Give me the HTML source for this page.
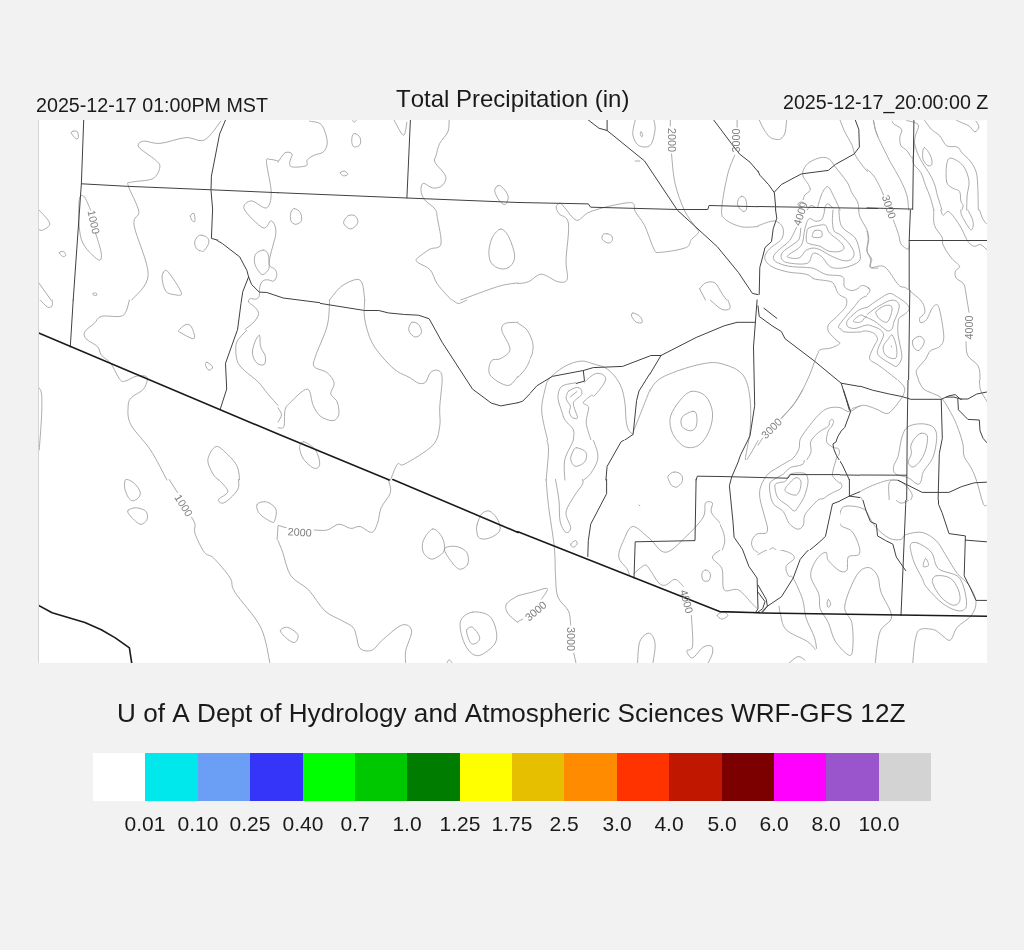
<!DOCTYPE html>
<html><head><meta charset="utf-8">
<style>
html,body{margin:0;padding:0;}
body{font-kerning:none;width:1024px;height:950px;background:#f2f2f2;position:relative;overflow:hidden;font-family:"Liberation Sans",sans-serif;color:#1a1a1a;}
.t{position:absolute;white-space:nowrap;line-height:1;will-change:transform;}
#map{position:absolute;left:38px;top:120px;width:948px;height:543px;background:#fff;border-left:1px solid #d4d4d4;}
#cb{position:absolute;left:93px;top:753px;height:48px;display:flex;}
.cl{top:813px;font-size:21px;transform:translateX(-50%);}
#cb div{width:52.375px;height:48px;}
</style></head><body>
<div class="t" id="tl" style="left:35.5px;top:95.5px;font-size:19.7px">2025-12-17 01:00PM MST</div>
<div class="t" id="tc" style="left:396px;top:86.5px;font-size:24px">Total Precipitation (in)</div>
<div class="t" id="tr" style="left:782.5px;top:93px;font-size:19.65px">2025-12-17_20:00:00 Z</div>
<div id="map"></div>
<!--SVG--><svg id="ov" width="1024" height="950" viewBox="0 0 1024 950" style="position:absolute;left:0;top:0">
<defs><clipPath id="mc"><rect x="39" y="120" width="948" height="543"/></clipPath>
<mask id="mk" maskUnits="userSpaceOnUse" x="0" y="0" width="1024" height="950"><rect x="0" y="0" width="1024" height="950" fill="white"/><rect x="720" y="460" width="120" height="90" fill="black"/><rect x="530" y="350" width="120" height="90" fill="black"/><rect x="867" y="290" width="120" height="90" fill="black"/><rect x="812" y="278" width="55" height="74" fill="black"/><rect x="860" y="380" width="127" height="120" fill="black"/><rect x="200" y="240" width="120" height="90" fill="black"/><rect x="660" y="465" width="30" height="30" fill="black"/></mask><clipPath id="oc0"><rect x="720" y="460" width="120" height="90"/></clipPath><clipPath id="oc1"><rect x="530" y="350" width="120" height="90"/></clipPath><clipPath id="oc2"><rect x="867" y="290" width="120" height="90"/></clipPath><clipPath id="oc3"><rect x="812" y="278" width="55" height="74"/></clipPath><clipPath id="oc4"><rect x="860" y="380" width="127" height="120"/></clipPath><clipPath id="oc5"><rect x="200" y="240" width="120" height="90"/></clipPath><clipPath id="oc6"><rect x="660" y="465" width="30" height="30"/></clipPath></defs>
<g clip-path="url(#mc)" fill="none" stroke-linejoin="round" stroke-linecap="round">
<g mask="url(#mk)"><path d="M73.2,131.2 C74.2,131.1 76.5,130.7 77.4,131.7 C78.2,132.8 78.6,136.5 78.3,137.6 C78.0,138.7 76.7,139.1 75.5,138.3 C74.3,137.5 71.7,134.1 71.3,132.9 C70.9,131.7 72.1,131.4 73.2,131.2 M220.8,121.2 C218.1,124.3 210.3,137.2 204.4,139.9 C198.5,142.7 193.1,137.0 185.7,137.6 C178.2,138.2 166.9,142.9 159.9,143.4 C152.8,144.0 147.0,140.5 143.5,141.1 C140.0,141.7 136.8,143.8 138.8,147.0 C140.7,150.1 151.7,156.5 155.2,159.8 C158.7,163.2 160.3,163.8 159.9,166.9 C159.5,170.0 157.5,176.1 152.8,178.6 C148.2,181.1 135.9,180.9 131.8,182.1 C127.6,183.3 127.1,180.7 128.2,185.6 C129.4,190.5 137.8,204.8 138.8,211.4 C139.8,218.0 132.5,214.9 134.1,225.5 C135.7,236.0 148.5,262.3 148.2,274.7 C147.8,287.1 134.5,295.8 131.8,300.0 M90.7,210.2 C89.6,207.9 85.7,197.5 83.7,196.2 C81.8,194.8 79.4,194.8 79.0,202.0 C78.6,209.3 78.2,230.0 81.4,239.5 C84.5,249.1 94.4,257.1 97.8,259.5 C101.1,261.8 101.7,258.1 101.3,253.6 C100.9,249.1 96.4,236.0 95.4,232.5 M38.0,209.1 C40.0,211.4 48.9,219.6 49.7,223.1 C50.5,226.6 44.6,229.2 42.7,230.2 C40.7,231.1 38.8,229.2 38.0,229.0 M59.1,252.4 C59.3,251.6 62.7,251.2 63.8,251.7 C64.9,252.2 65.9,254.7 65.7,255.5 C65.5,256.2 63.7,256.9 62.6,256.4 C61.5,255.9 58.9,253.2 59.1,252.4 M38.0,281.7 L50.9,300.0 M190.3,216.1 C190.5,214.8 193.1,212.5 193.9,213.3 C194.6,214.1 195.2,219.5 195.0,220.8 C194.8,222.1 193.5,222.0 192.7,221.2 C191.9,220.5 190.1,217.4 190.3,216.1 M202.1,235.3 C203.8,235.6 206.8,236.7 207.9,238.4 C209.0,240.0 209.4,243.3 208.6,245.4 C207.8,247.5 205.1,250.1 203.2,250.8 C201.4,251.4 198.8,250.7 197.4,249.4 C195.9,248.1 194.6,245.2 194.6,243.0 C194.6,240.9 196.1,238.0 197.4,236.7 C198.6,235.4 200.3,235.0 202.1,235.3 M163.4,272.3 C164.4,271.1 165.1,268.4 168.1,271.9 C171.1,275.3 180.5,289.2 181.4,293.0 C182.4,296.8 176.6,294.9 173.9,294.6 C171.3,294.3 167.7,293.6 165.7,291.1 C163.8,288.6 162.6,282.5 162.2,279.4 C161.8,276.2 162.4,273.6 163.4,272.3 M93.1,293.4 C93.5,293.0 95.5,292.7 96.1,293.0 C96.7,293.3 97.0,294.9 96.6,295.3 C96.2,295.7 94.4,295.6 93.8,295.3 C93.2,295.0 92.7,293.8 93.1,293.4 M278.0,161.0 C276.7,160.7 271.9,159.2 270.0,159.4 C268.1,159.6 266.3,156.6 266.5,162.2 C266.7,167.7 271.2,185.0 271.2,192.7 C271.2,200.3 269.8,206.5 266.5,207.9 C263.2,209.3 255.0,200.7 251.3,200.9 C247.6,201.1 242.3,204.6 244.2,209.1 C246.2,213.6 258.5,225.9 263.0,227.8 C267.5,229.8 269.1,220.0 271.2,220.8 C273.4,221.6 276.1,225.9 275.9,232.5 C275.7,239.1 270.2,252.8 270.0,260.6 C269.8,268.4 276.1,275.9 274.7,279.4 C273.4,282.9 265.0,278.3 261.8,281.7 C258.7,285.2 256.9,297.0 256.0,300.0 M261.8,250.1 C264.0,249.5 266.5,252.0 267.7,254.8 C268.9,257.5 269.6,263.2 268.9,266.5 C268.1,269.7 265.0,273.6 263.0,274.2 C261.0,274.8 258.5,272.7 257.1,270.0 C255.8,267.3 254.0,261.6 254.8,258.3 C255.6,255.0 259.7,250.7 261.8,250.1 M388.2,479.5 C388.5,481.7 391.7,487.8 390.5,492.5 C389.3,497.3 383.3,502.7 381.1,507.8 C379.0,512.9 379.2,518.9 377.6,523.0 C376.0,527.1 374.7,531.8 371.8,532.4 C368.8,533.0 363.5,527.2 360.0,526.5 C356.5,525.9 354.2,528.8 350.7,528.4 C347.1,528.0 342.8,523.9 338.9,524.2 C335.0,524.5 331.3,529.1 327.2,530.0 C323.1,531.0 316.5,530.0 314.3,530.0 M278.0,525.4 L286.2,527.7 M278.0,540.6 C278.8,542.5 280.5,546.5 282.7,552.3 C284.8,558.2 286.6,569.5 290.9,575.8 C295.2,582.0 302.8,584.0 308.5,589.8 C314.1,595.7 319.4,605.8 324.9,610.9 C330.3,616.0 336.6,617.5 341.3,620.3 C346.0,623.0 350.5,624.6 353.0,627.3 C355.5,630.0 355.3,633.2 356.5,636.7 C357.7,640.2 357.5,646.1 360.0,648.4 C362.6,650.7 367.8,651.8 371.8,650.3 C375.7,648.7 378.4,643.2 383.5,639.0 C388.5,634.8 397.5,626.3 402.2,625.0 C406.9,623.6 411.0,626.5 411.6,630.8 C412.2,635.1 406.7,645.3 405.7,650.8 C404.8,656.2 405.7,661.5 405.7,663.6 M432.7,528.9 C435.8,528.3 440.1,533.6 442.1,537.1 C444.0,540.6 445.2,546.6 444.4,550.0 C443.6,553.3 439.7,555.5 437.4,557.0 C435.0,558.5 432.7,559.7 430.3,558.9 C428.0,558.1 424.5,555.4 423.3,552.3 C422.1,549.3 421.8,544.5 423.3,540.6 C424.9,536.7 429.6,529.5 432.7,528.9 M444.4,548.8 C445.2,546.3 452.4,545.9 456.1,546.5 C459.8,547.0 464.7,549.4 466.7,552.3 C468.6,555.2 469.0,561.2 467.8,564.0 C466.7,566.8 462.4,569.6 459.6,569.2 C456.9,568.8 454.0,565.1 451.4,561.7 C448.9,558.3 443.6,551.3 444.4,548.8 M477.2,524.2 C478.1,521.3 479.8,515.8 481.9,513.6 C484.1,511.5 487.4,510.1 490.1,511.3 C492.8,512.5 496.8,517.4 498.3,520.7 C499.9,524.0 501.0,528.3 499.5,531.2 C497.9,534.1 492.3,537.1 488.9,538.2 C485.6,539.4 481.6,539.4 479.6,538.2 C477.5,537.1 477.1,533.6 476.8,531.2 C476.4,528.9 476.4,527.1 477.2,524.2 M280.3,630.8 C280.3,628.9 284.6,626.9 287.4,627.3 C290.1,627.7 295.0,631.4 296.8,633.2 C298.5,634.9 298.3,636.3 297.9,637.9 C297.5,639.4 296.2,642.4 294.4,642.5 C292.6,642.7 289.7,641.0 287.4,639.0 C285.0,637.1 280.3,632.8 280.3,630.8 M518.0,595.7 C516.1,597.0 508.2,600.9 506.5,603.9 C504.8,606.8 505.8,610.1 507.7,613.2 C509.6,616.4 516.3,621.1 518.0,622.6 M472.5,612.1 C477.2,611.3 485.0,612.7 488.9,615.6 C492.8,618.5 495.0,625.0 496.0,629.7 C496.9,634.3 497.5,639.4 494.8,643.7 C492.1,648.0 483.9,654.3 479.6,655.4 C475.3,656.6 471.9,653.9 469.0,650.8 C466.1,647.6 463.4,641.8 462.0,636.7 C460.6,631.6 459.1,624.4 460.8,620.3 C462.6,616.2 467.8,612.9 472.5,612.1 M466.7,629.7 C467.5,628.1 470.4,626.1 472.5,627.3 C474.7,628.5 478.8,634.1 479.6,636.7 C480.3,639.2 478.6,641.4 477.2,642.5 C475.9,643.7 472.9,644.7 471.4,643.7 C469.8,642.7 468.6,639.0 467.8,636.7 C467.1,634.3 465.9,631.2 466.7,629.7 M446.8,663.6 C447.1,663.0 448.1,659.7 449.1,659.7 C450.1,659.7 452.0,663.0 452.6,663.6 M546.1,479.5 C546.5,483.8 547.1,494.1 548.5,505.4 C549.8,516.8 553.2,535.9 554.3,547.6 C555.5,559.3 554.9,567.5 555.5,575.8 C556.1,584.0 555.7,591.0 557.8,596.8 C560.0,602.7 566.2,606.2 568.4,610.9 C570.5,615.6 570.3,622.6 570.7,625.0 M573.8,653.1 L576.1,663.6 M555.5,479.5 C556.1,483.0 558.2,493.7 559.0,500.8 C559.8,507.8 559.0,516.6 560.2,521.8 C561.4,527.1 564.3,531.4 566.0,532.4 C567.8,533.4 570.7,531.0 570.7,527.7 C570.7,524.4 565.5,517.7 566.0,512.5 C566.6,507.2 571.5,500.8 574.2,496.1 C577.0,491.4 581.1,487.1 582.5,484.3 C583.8,481.6 582.5,480.3 582.5,479.5 M570.7,544.1 C571.1,543.0 574.4,540.6 575.4,540.6 C576.5,540.6 577.5,543.0 577.1,544.1 C576.7,545.2 574.1,547.2 573.1,547.2 C572.0,547.2 570.3,545.2 570.7,544.1 M638.9,505.0 L639.9,505.9 M670.3,479.5 C671.1,480.7 673.1,485.9 675.0,486.7 C677.0,487.5 680.9,484.7 682.1,484.3 M629.3,574.6 C628.9,573.6 628.7,571.6 627.0,568.7 C625.2,565.8 619.4,561.7 618.8,557.0 C618.2,552.3 621.1,545.7 623.5,540.6 C625.8,535.5 628.5,526.9 632.8,526.5 C637.1,526.1 643.8,534.0 649.2,538.2 C654.7,542.5 659.4,552.7 665.7,552.3 C671.9,551.9 680.5,541.8 686.8,535.9 C693.0,530.0 700.0,522.6 703.2,517.2 C706.3,511.7 703.9,505.4 705.5,503.1 C707.1,500.8 711.6,501.5 712.5,503.1 C713.5,504.7 709.8,508.6 711.4,512.5 C712.9,516.4 719.8,521.1 721.9,526.5 C724.1,532.0 725.8,540.2 724.2,545.3 C722.7,550.4 712.9,553.1 712.5,557.0 C712.1,560.9 720.0,563.2 721.9,568.7 C723.9,574.2 721.5,586.3 724.2,589.8 C727.0,593.3 733.6,587.5 738.3,589.8 C743.0,592.2 749.2,600.8 752.4,603.9 C755.5,607.0 756.3,607.8 757.1,608.6 M634.0,573.4 C635.8,572.0 642.0,566.0 644.6,565.2 C647.1,564.4 646.9,565.8 649.2,568.7 C651.6,571.6 655.9,580.0 658.6,582.8 C661.4,585.5 662.9,585.7 665.7,585.1 C668.4,584.5 672.1,579.1 675.0,579.3 C678.0,579.5 681.9,585.1 683.2,586.3 M691.4,615.6 C691.6,620.7 693.4,640.2 692.6,646.1 C691.8,651.9 686.8,648.8 686.8,650.8 C686.8,652.7 689.9,658.4 692.6,657.8 C695.3,657.2 700.0,649.2 703.2,647.2 C706.3,645.3 709.8,645.1 711.4,646.1 C712.9,647.0 713.1,650.2 712.5,653.1 C711.9,656.0 708.6,661.9 707.8,663.6 M705.5,569.9 C706.9,569.9 709.6,571.6 710.2,573.4 C710.8,575.2 710.2,579.3 709.0,580.4 C707.8,581.6 704.3,581.6 703.2,580.4 C702.0,579.3 701.6,575.2 702.0,573.4 C702.4,571.6 704.1,569.9 705.5,569.9 M758.0,533.6 C757.1,534.7 752.9,537.9 752.4,540.6 C751.8,543.3 753.8,548.0 754.7,550.0 C755.7,551.9 757.5,551.9 758.0,552.3 M518.0,595.7 C520.3,595.1 527.2,593.3 532.1,592.2 C536.9,591.0 545.7,587.5 547.3,588.6 C548.9,589.8 542.4,597.4 541.4,599.2 M522.7,619.1 L518.0,621.5 M637.5,663.6 C637.9,659.9 637.9,646.5 639.9,641.4 C641.8,636.3 646.7,632.8 649.2,633.2 C651.8,633.6 654.5,638.6 655.1,643.7 C655.7,648.8 653.2,660.3 652.8,663.6 M717.2,615.6 C716.8,614.6 718.4,613.8 719.6,613.2 C720.7,612.7 722.9,611.7 724.2,612.1 C725.6,612.5 728.2,614.4 727.8,615.6 C727.4,616.8 723.7,619.1 721.9,619.1 C720.1,619.1 717.6,616.6 717.2,615.6 M760.3,479.5 C760.7,484.6 761.5,501.3 762.7,510.1 C763.9,518.9 768.2,528.5 767.4,532.4 C766.6,536.3 759.6,533.4 758.0,533.6 M769.7,479.5 C770.5,482.7 771.7,492.5 774.4,498.4 C777.1,504.3 781.8,509.7 786.1,514.8 C790.4,519.9 797.1,529.7 800.2,528.9 C803.3,528.1 801.4,515.0 804.9,510.1 C808.4,505.2 815.2,503.3 821.3,499.6 C827.3,495.9 838.5,491.2 841.2,487.9 C843.9,484.5 838.3,480.9 837.7,479.5 M783.8,479.5 C784.2,481.5 784.4,488.8 786.1,491.4 C787.9,493.9 792.0,495.3 794.3,494.9 C796.7,494.5 799.4,491.6 800.2,489.0 C801.0,486.5 799.2,481.1 799.0,479.5 M758.0,554.7 C760.1,553.7 765.8,549.2 770.9,548.8 C776.0,548.4 784.6,550.8 788.5,552.3 C792.4,553.9 794.7,555.8 794.3,558.2 C793.9,560.5 787.1,563.4 786.1,566.4 C785.1,569.3 787.3,573.8 788.5,575.8 C789.6,577.7 790.8,574.2 793.2,578.1 C795.5,582.0 800.4,592.5 802.5,599.2 C804.7,605.8 804.1,611.7 806.0,617.9 C808.0,624.2 812.5,631.6 814.2,636.7 C816.0,641.8 816.2,646.5 816.6,648.4 M865.8,510.1 C864.2,509.5 860.3,507.0 856.4,506.6 C852.5,506.2 845.1,504.9 842.4,507.8 C839.6,510.7 838.5,520.3 840.0,524.2 C841.6,528.1 848.6,527.7 851.8,531.2 C854.9,534.7 857.6,541.4 858.8,545.3 C860.0,549.2 860.5,552.7 858.8,554.7 C857.0,556.6 850.2,554.5 848.2,557.0 C846.3,559.5 848.4,567.5 847.1,569.9 C845.7,572.2 843.2,572.6 840.0,571.1 C836.9,569.5 830.7,563.6 828.3,560.5 C826.0,557.4 827.9,552.5 826.0,552.3 C824.0,552.1 819.1,555.4 816.6,559.3 C814.1,563.2 810.3,569.9 810.7,575.8 C811.1,581.6 817.4,589.0 818.9,594.5 C820.5,600.0 818.5,603.9 820.1,608.6 C821.7,613.2 825.8,617.2 828.3,622.6 C830.9,628.1 831.8,635.9 835.3,641.4 C838.9,646.8 846.5,654.7 849.4,655.4 C852.3,656.2 852.5,651.5 852.9,646.1 C853.3,640.6 853.1,629.3 851.8,622.6 C850.4,616.0 843.9,614.0 844.7,606.2 C845.5,598.4 852.5,582.2 856.4,575.8 C860.3,569.3 864.6,567.5 868.2,567.5 C871.7,567.5 875.4,571.6 877.5,575.8 C879.7,579.9 878.7,585.3 881.0,592.2 C883.4,599.0 891.8,610.1 891.6,616.8 C891.4,623.4 882.6,624.2 879.9,632.0 C877.1,639.8 876.0,658.4 875.2,663.6 M828.3,599.2 C828.9,599.2 830.7,602.5 830.7,603.9 C830.7,605.2 828.9,607.4 828.3,607.4 C827.7,607.4 827.1,605.2 827.1,603.9 C827.1,602.5 827.7,599.2 828.3,599.2 M889.2,479.5 C889.6,481.9 889.6,489.8 891.6,493.7 C893.5,497.7 897.5,502.7 901.0,503.1 C904.5,503.5 911.5,498.8 912.7,496.1 C913.9,493.3 909.6,489.4 908.0,486.7 C906.4,483.9 904.1,480.7 903.3,479.5 M865.8,510.1 C867.4,512.9 871.3,521.8 875.2,526.5 C879.1,531.2 885.0,536.1 889.2,538.2 C893.5,540.4 898.2,540.0 901.0,539.4 C903.7,538.8 902.1,535.9 905.7,534.7 C909.2,533.6 917.0,531.4 922.1,532.4 C927.1,533.4 932.2,536.9 936.1,540.6 C940.0,544.3 942.0,549.2 945.5,554.7 C949.0,560.1 953.3,568.3 957.2,573.4 C961.1,578.5 965.8,580.4 968.9,585.1 C972.1,589.8 975.6,596.5 976.0,601.5 C976.4,606.6 974.4,611.3 971.3,615.6 C968.2,619.9 960.7,623.2 957.2,627.3 C953.7,631.4 952.9,639.0 950.2,640.2 C947.5,641.4 943.5,636.1 940.8,634.3 C938.1,632.6 937.3,630.4 933.8,629.7 C930.3,628.9 922.8,627.7 919.7,629.7 C916.6,631.6 916.2,635.7 915.0,641.4 C913.9,647.0 913.1,659.9 912.7,663.6 M917.4,542.9 C920.9,544.1 927.9,548.0 931.4,552.3 C935.0,556.6 933.8,564.4 938.5,568.7 C943.2,573.0 954.9,572.2 959.6,578.1 C964.2,584.0 966.6,598.4 966.6,603.9 C966.6,609.3 963.5,610.9 959.6,610.9 C955.7,610.9 948.6,607.8 943.2,603.9 C937.7,600.0 930.3,591.8 926.8,587.5 C923.2,583.2 924.2,582.4 922.1,578.1 C919.9,573.8 915.8,567.2 913.9,561.7 C911.9,556.2 909.8,548.4 910.3,545.3 C910.9,542.2 913.9,541.8 917.4,542.9 M936.1,575.8 C939.1,575.0 946.5,575.8 950.2,578.1 C953.9,580.4 956.8,585.9 958.4,589.8 C960.0,593.7 960.5,599.0 959.6,601.5 C958.6,604.1 955.7,605.8 952.5,605.0 C949.4,604.3 944.1,600.6 940.8,596.8 C937.5,593.1 933.4,586.3 932.6,582.8 C931.8,579.3 933.2,576.5 936.1,575.8 M925.6,558.2 C926.5,558.0 929.0,563.8 928.6,565.2 C928.2,566.6 923.7,567.5 923.2,566.4 C922.7,565.2 924.7,558.4 925.6,558.2 M978.3,479.5 C979.1,483.4 981.6,498.8 983.0,503.1 C984.4,507.4 985.9,505.0 986.5,505.4 M779.1,606.2 C779.3,607.4 779.1,609.3 780.3,613.2 C781.4,617.2 781.6,625.0 786.1,629.7 C790.6,634.3 802.3,638.1 807.2,641.4 C812.1,644.7 814.1,648.2 815.4,649.6 M788.5,663.6 C790.0,662.5 795.1,657.2 797.8,656.6 C800.6,656.0 803.7,659.5 804.9,660.1 M309.6,121.2 C311.6,121.8 318.4,121.4 321.4,124.7 C324.3,128.0 326.8,136.6 327.2,141.1 C327.6,145.6 325.9,149.3 323.7,151.6 C321.6,154.0 317.1,153.8 314.3,155.2 C311.6,156.5 308.7,158.1 307.3,159.8 C305.9,161.6 308.7,164.5 306.1,165.7 C303.6,166.9 294.8,167.5 292.1,166.9 C289.3,166.3 289.7,164.3 289.7,162.2 C289.7,160.0 292.8,155.5 292.1,154.0 C291.3,152.4 287.4,151.4 285.0,152.8 C282.7,154.2 279.2,160.6 278.0,162.2 M352.5,120.0 C352.8,120.4 353.5,122.3 354.2,122.3 C354.8,122.3 356.1,120.4 356.5,120.0 M355.3,133.6 C356.6,134.0 359.2,135.7 360.0,137.6 C360.8,139.4 361.0,143.0 360.0,144.6 C359.1,146.2 355.5,147.3 354.2,147.0 C352.8,146.6 352.1,144.2 351.8,142.3 C351.6,140.3 351.9,136.7 352.5,135.2 C353.1,133.8 354.1,133.2 355.3,133.6 M340.1,172.7 C340.3,172.0 343.5,170.8 344.8,171.1 C346.1,171.4 348.0,173.6 347.8,174.4 C347.6,175.2 344.9,176.1 343.6,175.8 C342.3,175.5 339.9,173.5 340.1,172.7 M394.0,120.0 C395.6,122.5 401.2,134.8 403.4,135.2 C405.5,135.6 406.3,124.5 406.9,122.3 M449.1,120.0 C448.9,122.0 449.5,127.8 447.9,131.7 C446.4,135.6 441.7,139.5 439.7,143.4 C437.8,147.3 437.0,152.0 436.2,155.2 C435.4,158.3 433.5,158.7 435.0,162.2 C436.6,165.7 444.4,172.3 445.6,176.2 C446.8,180.2 444.2,183.7 442.1,185.6 C439.9,187.6 435.8,188.4 432.7,188.0 C429.6,187.6 425.3,182.9 423.3,183.3 C421.4,183.7 420.8,187.6 421.0,190.3 C421.2,193.0 422.1,196.6 424.5,199.7 C426.8,202.8 432.9,205.9 435.0,209.1 C437.2,212.2 436.4,212.6 437.4,218.4 C438.4,224.3 442.1,239.1 440.9,244.2 C439.7,249.3 433.3,247.3 430.3,248.9 C427.4,250.5 425.7,251.8 423.3,253.6 C421.0,255.4 417.1,257.9 416.3,259.5 C415.5,261.0 416.3,261.2 418.6,263.0 C421.0,264.7 427.2,266.5 430.3,270.0 C433.5,273.5 433.9,279.1 437.4,284.1 C440.9,289.1 449.1,297.3 451.4,300.0 M497.1,186.1 C498.3,185.3 500.0,185.1 501.8,186.8 C503.7,188.5 507.6,193.2 508.2,196.2 C508.7,199.1 506.8,203.6 505.3,204.4 C503.9,205.2 501.2,203.0 499.5,200.9 C497.7,198.7 495.2,193.9 494.8,191.5 C494.4,189.0 496.0,186.9 497.1,186.1 M294.4,208.6 C296.0,208.6 299.1,210.5 300.3,212.6 C301.4,214.6 302.2,218.8 301.4,220.8 C300.7,222.7 297.3,224.3 295.6,224.3 C293.8,224.3 291.7,222.7 290.9,220.8 C290.1,218.8 290.3,214.6 290.9,212.6 C291.5,210.5 292.8,208.6 294.4,208.6 M348.3,215.6 C350.3,214.5 353.8,214.8 355.3,216.1 C356.9,217.3 358.5,221.0 357.7,223.1 C356.9,225.3 353.0,229.0 350.7,229.0 C348.3,229.0 344.0,225.4 343.6,223.1 C343.2,220.9 346.4,216.8 348.3,215.6 M500.9,229.0 C503.6,229.0 506.6,232.7 508.9,237.2 C511.2,241.7 514.5,251.1 514.7,255.9 C514.9,260.8 512.4,264.3 510.0,266.5 C507.7,268.6 503.8,269.4 500.7,268.8 C497.5,268.2 493.2,265.9 491.3,263.0 C489.3,260.0 488.7,255.5 488.9,251.2 C489.1,247.0 490.5,240.9 492.5,237.2 C494.4,233.5 498.2,229.0 500.9,229.0 M329.6,300.0 C331.5,297.7 336.8,289.8 341.3,286.4 C345.8,283.0 353.0,279.8 356.5,279.4 C360.0,279.0 361.0,280.6 362.4,284.1 C363.7,287.5 364.3,297.3 364.7,300.0 M460.8,300.0 C467.1,297.7 488.8,289.3 498.3,286.4 C507.8,283.6 514.7,283.5 518.0,282.9 M518.0,283.6 C519.8,283.3 524.6,283.3 528.5,281.7 C532.5,280.2 536.6,274.2 541.4,274.2 C546.3,274.2 553.5,280.9 557.8,281.7 C562.1,282.6 565.9,282.9 567.2,279.4 C568.6,275.9 565.9,270.0 566.0,260.6 C566.2,251.2 569.6,230.9 568.4,223.1 C567.2,215.3 561.0,216.5 559.0,213.8 C557.0,211.0 556.0,208.5 556.2,206.7 C556.4,205.0 558.7,203.0 560.2,203.2 C561.6,203.4 562.1,205.0 564.9,207.9 C567.6,210.7 572.7,219.5 576.6,220.3 C580.5,221.1 583.2,214.8 588.3,212.6 C593.4,210.3 600.4,208.4 607.1,206.7 C613.7,205.1 623.7,203.1 628.2,202.7 C632.6,202.3 632.8,202.9 634.0,204.4 C635.2,205.8 633.4,207.9 635.2,211.4 C636.9,214.9 641.4,219.2 644.6,225.5 C647.7,231.7 651.4,244.4 653.9,248.9 C656.5,253.4 654.5,252.6 659.8,252.4 C665.1,252.2 680.3,249.9 685.6,247.7 C690.9,245.6 689.3,242.1 691.4,239.5 C693.6,237.0 697.7,234.5 698.5,232.5 C699.2,230.5 698.5,231.5 696.1,227.8 C693.8,224.1 687.9,217.7 684.4,210.2 C680.9,202.8 677.2,192.7 675.0,183.3 C672.9,173.9 672.1,158.9 671.5,154.0 M670.3,125.9 L670.3,120.0 M635.2,120.0 C634.8,122.3 632.5,130.0 632.8,134.1 C633.2,138.2 635.4,142.5 637.5,144.6 C639.7,146.8 643.4,147.1 645.7,147.0 C648.1,146.8 650.0,146.4 651.6,143.4 C653.2,140.5 654.7,133.3 655.1,129.4 C655.5,125.5 654.1,121.6 653.9,120.0 M641.0,131.7 C641.4,131.8 642.6,133.7 642.7,134.5 C642.8,135.4 642.1,137.0 641.8,136.9 C641.4,136.8 640.5,134.9 640.3,134.1 C640.2,133.2 640.7,131.6 641.0,131.7 M635.2,161.0 L639.9,161.0 M607.1,233.7 C608.5,233.9 610.9,234.8 611.8,236.0 C612.6,237.2 612.8,239.5 612.2,240.7 C611.6,241.9 609.9,243.2 608.2,243.0 C606.6,242.9 603.3,240.9 602.4,239.5 C601.5,238.2 602.1,235.8 602.8,234.8 C603.6,233.9 605.6,233.5 607.1,233.7 M737.1,120.0 L737.1,127.0 M734.8,155.2 C733.6,158.3 729.9,165.3 727.8,173.9 C725.6,182.5 722.5,199.3 721.9,206.7 C721.3,214.1 721.1,215.1 724.2,218.4 C727.4,221.8 735.0,225.3 740.7,226.6 C746.3,228.0 755.1,226.6 758.0,226.6 M741.8,196.2 C743.1,196.2 745.0,197.5 745.8,199.7 C746.6,201.8 747.0,207.1 746.5,209.1 C746.0,211.0 744.4,212.0 743.0,211.4 C741.6,210.8 738.6,207.5 737.8,205.5 C737.1,203.6 737.6,201.2 738.3,199.7 C739.0,198.1 740.6,196.2 741.8,196.2 M699.6,288.8 C700.6,287.8 703.0,283.9 705.5,282.9 C708.0,281.9 712.1,281.1 714.9,282.9 C717.6,284.6 720.0,290.6 721.9,293.4 C723.9,296.3 725.8,298.9 726.6,300.0 M699.6,288.8 L705.5,300.0 M759.2,120.0 C760.0,121.6 762.1,126.5 763.9,129.4 C765.6,132.2 767.8,135.3 769.7,137.0 C771.7,138.7 773.7,139.0 775.6,139.3 C777.4,139.6 779.3,139.8 780.9,138.8 C782.4,137.7 784.0,136.0 785.0,132.9 C785.9,129.8 786.4,122.1 786.7,120.0 M840.0,120.0 C840.8,122.0 842.8,127.6 844.7,131.7 C846.7,135.8 850.0,140.7 851.8,144.6 C853.5,148.5 853.3,151.4 855.3,155.2 C857.2,158.9 861.4,164.1 863.5,166.9 C865.5,169.6 866.9,170.8 867.6,171.6 M873.4,120.0 C873.7,121.6 874.4,126.6 875.2,129.4 C875.9,132.1 877.5,135.2 878.0,136.4 M803.1,199.7 C803.4,198.9 803.7,196.6 804.9,195.0 C806.0,193.4 809.6,192.1 810.1,190.3 C810.7,188.6 809.6,186.8 808.4,184.5 C807.2,182.1 803.9,178.8 803.1,176.2 C802.3,173.7 802.6,171.6 803.7,169.2 C804.8,166.9 806.6,164.1 809.6,162.2 C812.5,160.2 818.0,158.0 821.3,157.5 C824.6,157.0 827.1,157.7 829.5,159.3 C831.8,160.8 832.4,163.1 835.3,166.9 C838.3,170.7 844.3,177.8 847.1,182.1 C849.8,186.4 850.0,189.3 851.8,192.7 C853.5,196.0 856.4,199.1 857.6,202.0 C858.8,204.9 858.6,208.7 858.8,210.0 M817.8,206.7 C818.4,204.6 820.2,197.2 821.9,193.8 C823.5,190.5 825.7,186.0 827.7,186.6 C829.8,187.1 832.1,193.4 834.2,197.3 C836.2,201.2 839.1,207.9 840.0,210.0 M798.4,203.2 C799.0,202.6 800.8,201.8 801.9,202.0 C803.1,202.2 805.4,203.6 805.5,204.4 C805.6,205.2 803.7,206.5 802.5,206.7 C801.4,206.9 799.1,206.1 798.4,205.5 C797.7,205.0 797.8,203.8 798.4,203.2 M807.2,210.0 C807.8,209.3 809.4,206.0 810.7,205.5 C812.1,205.1 814.6,207.0 815.4,207.3 M824.2,210.0 C824.7,209.0 825.7,204.1 827.1,203.8 C828.6,203.4 832.0,207.2 833.0,207.9 M873.4,120.0 C873.9,122.1 874.9,128.6 876.4,132.9 C877.8,137.2 879.9,140.9 882.2,145.8 C884.6,150.7 887.5,156.7 890.4,162.2 C893.4,167.7 897.1,173.1 899.8,178.6 C902.5,184.1 905.4,189.8 906.8,195.0 C908.3,200.2 908.3,207.5 908.6,210.0 M867.0,169.2 C868.2,170.4 871.9,173.3 874.0,176.2 C876.2,179.2 878.3,183.7 879.9,186.8 C881.5,189.9 882.8,193.6 883.4,195.0 M892.2,121.2 C892.5,121.7 892.4,122.7 894.0,124.1 C895.5,125.5 900.6,127.1 901.6,129.4 C902.5,131.6 899.9,134.8 899.8,137.6 C899.7,140.3 899.8,143.6 901.0,145.8 C902.2,147.9 904.9,148.5 906.8,150.5 C908.8,152.4 911.3,159.6 912.7,157.5 C914.1,155.4 914.1,142.9 915.0,137.6 C916.0,132.3 918.8,128.4 918.6,125.9 C918.4,123.3 915.8,123.2 913.9,122.3 C911.9,121.5 908.0,120.9 906.8,120.6 M912.7,158.7 C912.9,159.6 912.5,162.2 913.9,164.5 C915.2,166.9 919.0,169.2 920.9,172.7 C922.9,176.2 924.0,181.5 925.6,185.6 C927.2,189.7 928.9,193.3 930.3,197.3 C931.6,201.4 933.2,207.9 933.8,210.0 M913.9,141.1 C914.5,143.0 916.0,149.3 917.4,152.8 C918.8,156.3 919.9,158.5 922.1,162.2 C924.2,165.9 928.1,171.2 930.3,175.1 C932.4,179.0 933.8,182.3 935.0,185.6 C936.1,188.9 936.1,190.9 937.3,195.0 C938.5,199.1 941.2,207.5 942.0,210.0 M924.4,147.5 C925.7,147.9 929.0,152.4 930.3,155.2 C931.6,157.9 932.4,162.2 932.0,163.9 C931.6,165.7 929.4,166.4 927.9,165.7 C926.5,165.0 924.1,162.0 923.2,159.8 C922.4,157.7 922.5,154.9 922.7,152.8 C922.9,150.8 923.2,147.1 924.4,147.5 M924.4,120.0 C925.6,121.6 928.9,126.7 931.5,129.4 C934.0,132.0 937.1,133.1 939.7,135.8 C942.2,138.6 943.8,143.9 946.7,145.8 C949.6,147.6 954.7,145.8 957.2,147.0 C959.8,148.1 959.8,150.5 961.9,152.8 C964.1,155.2 967.8,157.9 970.1,161.0 C972.5,164.1 974.7,167.5 976.0,171.6 C977.3,175.7 977.4,179.2 977.7,185.6 C978.1,192.0 978.2,205.9 978.3,210.0 M961.9,210.0 C962.1,209.3 963.3,207.1 963.1,205.5 C962.9,204.0 961.3,203.2 960.8,200.9 C960.2,198.5 960.9,193.6 959.6,191.5 C958.2,189.3 954.7,189.5 952.5,188.0 C950.4,186.4 947.7,186.0 946.7,182.1 C945.7,178.2 946.0,168.5 946.7,164.5 C947.4,160.5 948.1,157.9 950.8,158.1 C953.5,158.3 960.1,161.9 963.1,165.7 C966.1,169.5 968.3,176.1 969.0,180.9 C969.6,185.8 967.6,190.2 967.2,195.0 C966.8,199.8 966.7,207.5 966.6,210.0 M956.1,120.0 C956.8,120.4 958.6,121.4 960.8,122.3 C962.9,123.3 966.6,124.3 969.0,125.9 C971.3,127.4 973.2,131.5 974.8,131.7 C976.5,131.9 978.7,128.8 978.9,127.0 C979.1,125.3 976.5,122.1 976.0,121.2 M814.8,230.5 C816.3,229.9 820.2,230.0 821.3,231.1 C822.4,232.2 822.6,235.9 821.3,237.0 C819.9,238.0 814.5,237.6 813.1,237.2 C811.6,236.8 812.2,235.7 812.5,234.6 C812.8,233.5 813.4,231.1 814.8,230.5 M808.4,228.2 C810.1,226.9 813.8,226.3 816.6,225.8 C819.4,225.3 823.2,224.1 825.4,225.2 C827.5,226.4 827.0,230.1 829.5,232.9 C831.9,235.6 837.6,239.1 840.0,241.6 C842.5,244.2 844.3,246.4 844.1,248.1 C843.9,249.7 841.5,251.1 838.9,251.6 C836.2,252.1 831.4,251.9 828.3,251.0 C825.2,250.1 823.1,247.5 820.1,246.3 C817.1,245.2 812.4,244.8 810.1,244.0 C807.9,243.2 807.2,243.4 806.6,241.6 C806.0,239.9 806.3,235.7 806.6,233.4 C806.9,231.2 806.7,229.4 808.4,228.2 M758.0,225.8 C760.3,225.0 768.5,221.6 772.1,221.1 C775.6,220.6 777.2,221.6 779.1,222.9 C780.9,224.2 782.6,226.4 783.2,228.8 C783.8,231.1 783.3,234.8 782.6,237.0 C781.9,239.1 781.2,239.7 779.1,241.6 C776.9,243.6 772.1,246.3 769.7,248.7 C767.4,251.0 765.6,253.6 765.0,255.7 C764.4,257.9 764.8,259.6 766.2,261.6 C767.6,263.5 769.5,265.7 773.2,267.4 C776.9,269.2 783.0,271.0 788.5,272.1 C793.9,273.2 801.6,273.0 806.0,274.2 C810.5,275.4 811.3,277.9 815.4,279.1 C819.5,280.4 827.3,280.1 830.7,281.5 C834.0,282.9 834.0,285.4 835.3,287.3 C836.7,289.3 837.1,291.1 838.9,293.2 C840.6,295.3 844.7,298.9 845.9,300.0 M796.7,227.0 C795.5,229.2 792.4,236.9 789.6,240.5 C786.9,244.1 782.9,246.1 780.3,248.7 C777.6,251.2 774.6,253.6 773.8,255.7 C773.0,257.9 773.1,259.8 775.6,261.6 C778.0,263.3 783.6,265.3 788.5,266.2 C793.4,267.2 800.6,267.0 804.9,267.4 C809.2,267.8 810.7,267.4 814.2,268.6 C817.8,269.8 821.3,273.1 826.0,274.5 C830.7,275.8 839.2,274.6 842.4,276.6 C845.5,278.5 843.4,283.8 844.7,286.2 C846.1,288.6 847.6,290.9 850.6,290.9 C853.5,290.9 859.2,286.6 862.3,286.2 C865.4,285.8 868.4,287.1 869.3,288.5 C870.3,289.9 869.7,292.5 868.2,294.4 C866.6,296.3 861.3,299.1 860.0,300.0 M800.8,228.2 C800.5,230.0 800.5,236.5 799.0,239.3 C797.6,242.1 794.7,243.0 792.0,245.2 C789.2,247.3 784.4,250.0 782.6,252.2 C780.9,254.3 780.7,256.3 781.4,258.0 C782.2,259.8 783.0,261.9 787.3,262.7 C791.6,263.6 802.9,264.9 807.2,263.3 C811.5,261.8 810.7,254.5 813.1,253.4 C815.4,252.2 818.7,254.3 821.3,256.3 C823.8,258.2 826.2,263.1 828.3,265.1 C830.5,267.0 831.2,267.6 834.2,268.0 C837.1,268.4 841.8,268.5 845.9,267.4 C850.0,266.3 856.4,263.9 858.8,261.6 C861.1,259.2 860.5,257.3 860.0,253.4 C859.4,249.5 858.0,242.2 855.3,238.1 C852.5,234.0 846.1,231.5 843.5,228.8 C841.0,226.0 840.8,224.8 840.0,221.7 C839.2,218.6 839.1,212.0 838.9,210.0 M824.8,210.0 C824.3,211.6 823.4,217.5 821.9,219.4 C820.3,221.2 817.6,221.2 815.4,221.1 C813.3,221.0 810.7,217.5 809.0,218.8 C807.2,220.1 806.1,224.4 804.9,228.8 C803.6,233.1 804.0,240.9 801.4,245.2 C798.7,249.5 791.2,252.5 789.1,254.5 C786.9,256.6 786.8,256.9 788.5,257.5 C790.1,258.0 796.1,259.2 799.0,258.0 C801.9,256.9 803.7,252.1 806.0,250.4 C808.4,248.8 810.7,248.2 813.1,248.1 C815.4,248.0 817.2,248.6 820.1,249.8 C823.0,251.1 826.9,253.9 830.7,255.7 C834.4,257.5 839.1,259.7 842.4,260.4 C845.7,261.1 848.6,261.0 850.6,259.8 C852.5,258.6 854.3,256.0 854.1,253.4 C853.9,250.7 851.8,247.1 849.4,244.0 C847.1,240.9 842.6,236.8 840.0,234.6 C837.5,232.5 835.4,233.2 834.2,231.1 C832.9,228.9 832.6,225.2 832.4,221.7 C832.2,218.2 832.9,212.0 833.0,210.0 M858.8,210.0 C859.0,211.2 858.6,213.7 860.0,217.0 C861.3,220.4 865.5,226.2 867.0,229.9 C868.4,233.6 868.7,235.8 868.7,239.3 C868.7,242.8 866.7,247.7 867.0,251.0 C867.3,254.3 869.9,256.5 870.5,259.2 C871.1,262.0 869.2,266.0 870.5,267.4 C871.8,268.9 876.8,267.9 878.0,268.0 M893.4,220.0 C894.2,222.4 897.4,230.6 898.6,234.6 C899.9,238.6 899.4,241.5 901.0,244.0 C902.5,246.4 906.6,249.1 908.0,249.3 C909.4,249.5 909.2,245.8 909.4,245.2 M867.0,231.1 C867.2,232.5 868.2,236.0 868.2,239.3 C868.2,242.6 866.4,247.7 867.0,251.0 C867.6,254.3 871.1,256.5 871.7,259.2 C872.3,262.0 868.4,266.2 870.5,267.4 C872.7,268.7 879.9,263.9 884.6,266.8 C889.3,269.8 894.9,281.4 898.6,285.0 C902.4,288.6 903.7,286.0 906.8,288.5 C910.0,291.0 915.6,298.1 917.4,300.0 M867.0,287.3 C867.6,287.9 870.5,289.5 870.5,290.9 C870.5,292.2 867.6,294.8 867.0,295.5 M878.7,300.0 C880.5,298.9 885.4,293.2 889.3,293.2 C893.2,293.2 900.0,298.9 902.2,300.0 M933.8,210.0 C933.9,212.5 933.0,220.7 934.4,225.2 C935.8,229.7 940.5,233.6 942.0,237.0 C943.5,240.3 941.6,241.6 943.2,245.2 C944.7,248.7 948.6,254.5 951.4,258.0 C954.1,261.6 958.9,264.1 959.6,266.2 C960.3,268.4 956.1,269.0 955.5,270.9 C954.9,272.9 954.6,275.6 956.1,278.0 C957.5,280.3 962.7,281.3 964.3,285.0 C965.8,288.7 965.2,297.5 965.4,300.0 M940.8,210.0 C941.2,210.9 941.8,215.0 943.2,215.3 C944.5,215.6 946.3,210.1 949.0,211.8 C951.8,213.4 956.6,220.6 959.6,225.2 C962.5,229.8 964.9,236.2 966.6,239.3 C968.4,242.4 968.8,242.8 970.1,244.0 C971.5,245.2 973.1,246.2 974.8,246.3 C976.6,246.4 978.6,244.0 980.7,244.6 C982.7,245.2 985.9,249.0 987.0,249.8 M960.8,210.0 C960.9,211.0 960.4,212.6 961.9,215.9 C963.5,219.1 968.3,227.6 970.1,229.3 C972.0,231.1 972.7,228.1 973.1,226.4 C973.4,224.7 973.3,222.1 972.5,219.4 C971.6,216.6 968.6,211.6 967.8,210.0 M979.5,210.0 C980.1,211.6 981.8,217.0 983.0,219.4 C984.3,221.7 986.3,223.3 987.0,224.1 M40.3,300.0 C41.5,301.2 45.4,306.1 47.4,307.0 C49.3,308.0 51.3,307.0 52.1,305.9 C52.8,304.7 52.1,301.0 52.1,300.0 M129.4,300.0 C128.8,302.0 127.5,309.0 125.9,311.7 C124.3,314.5 124.1,315.6 120.0,316.4 C115.9,317.2 105.6,315.2 101.3,316.4 C97.0,317.6 97.0,320.9 94.2,323.4 C91.5,326.0 86.2,329.1 84.9,331.6 C83.5,334.2 83.9,336.1 86.0,338.7 C88.2,341.2 95.2,344.1 97.8,346.9 C100.3,349.6 99.1,352.3 101.3,355.1 C103.4,357.8 107.5,359.2 110.7,363.3 C113.8,367.4 117.5,376.8 120.0,379.7 C122.6,382.6 123.2,381.4 125.9,380.9 C128.6,380.3 132.9,376.8 136.4,376.2 C140.0,375.6 145.8,375.2 147.0,377.3 C148.2,379.5 146.0,385.7 143.5,389.1 C140.9,392.4 134.3,394.5 131.8,397.3 C129.2,400.0 128.4,401.0 128.2,405.5 C128.0,410.0 126.9,416.8 130.6,424.2 C134.3,431.6 144.4,440.7 150.5,450.0 C156.6,459.3 164.2,475.0 166.9,480.0 M178.6,330.5 C179.8,329.5 183.5,325.2 185.7,324.6 C187.8,324.0 190.1,324.6 191.5,327.0 C192.9,329.3 196.0,337.9 193.9,338.7 C191.7,339.5 181.2,332.8 178.6,331.6 M206.8,362.1 C207.9,362.3 212.2,365.4 212.6,366.8 C213.0,368.2 210.3,370.5 209.1,370.3 C207.9,370.1 206.0,367.0 205.6,365.6 C205.2,364.3 205.6,361.9 206.8,362.1 M250.1,300.0 C251.5,302.0 257.7,307.8 258.3,311.7 C258.9,315.6 256.4,319.5 253.6,323.4 C250.9,327.3 244.8,331.6 241.9,335.2 C239.0,338.7 236.8,340.2 236.0,344.5 C235.3,348.8 235.9,356.6 237.2,360.9 C238.6,365.2 240.7,366.8 244.2,370.3 C247.8,373.8 254.4,378.1 258.3,382.0 C262.2,385.9 264.4,389.8 267.7,393.8 C271.0,397.7 276.3,403.5 278.0,405.5 M259.5,335.2 C260.5,335.9 259.7,343.4 260.7,346.9 C261.6,350.4 264.8,353.3 265.3,356.2 C265.9,359.2 265.5,363.3 264.2,364.5 C262.8,365.6 259.1,365.0 257.1,363.3 C255.2,361.5 252.8,357.4 252.5,353.9 C252.1,350.4 253.6,345.3 254.8,342.2 C256.0,339.1 258.5,334.4 259.5,335.2 M38.0,386.7 C38.6,387.9 40.9,388.7 41.5,393.8 C42.1,398.8 41.9,407.8 41.5,417.2 C41.1,426.6 39.6,444.5 39.2,450.0 M218.5,480.0 C217.5,478.9 214.4,476.9 212.6,473.4 C210.9,470.0 207.3,463.9 207.9,459.4 C208.5,454.9 212.8,447.3 216.1,446.5 C219.4,445.7 224.3,451.4 227.8,454.7 C231.4,458.0 235.3,462.2 237.2,466.4 C239.2,470.6 239.2,477.7 239.6,480.0 M329.6,300.0 C329.2,304.3 329.6,316.4 327.2,325.8 C324.9,335.2 317.6,349.4 315.5,356.2 C313.4,363.1 312.4,364.1 314.3,366.8 C316.3,369.5 323.9,369.9 327.2,372.7 C330.5,375.4 333.7,379.7 334.2,383.2 C334.8,386.7 330.3,390.8 330.7,393.8 C331.1,396.7 335.2,398.0 336.6,400.8 C338.0,403.5 338.7,407.4 338.9,410.2 C339.1,412.9 338.9,415.4 337.8,417.2 C336.6,418.9 334.8,420.9 331.9,420.7 C329.0,420.5 323.3,418.6 320.2,416.0 C317.1,413.5 315.3,410.0 313.2,405.5 C311.0,401.0 311.2,389.5 307.3,389.1 C303.4,388.7 293.4,399.6 289.7,403.1 C286.0,406.6 286.0,406.2 285.0,410.2 C284.1,414.1 285.0,423.6 283.9,426.6 C282.7,429.5 279.0,427.5 278.0,427.7 M278.0,407.8 C278.6,409.0 281.5,412.5 281.5,414.8 C281.5,417.2 278.6,420.7 278.0,421.9 M364.7,300.0 C364.7,303.1 363.5,311.7 364.7,318.8 C365.9,325.8 368.2,335.2 371.8,342.2 C375.3,349.2 381.5,356.1 385.8,360.9 C390.1,365.8 393.6,368.8 397.5,371.5 C401.4,374.2 405.7,375.4 409.2,377.3 C412.8,379.3 415.9,382.4 418.6,383.2 C421.4,384.0 423.7,383.8 425.7,382.0 C427.6,380.3 428.4,374.6 430.3,372.7 C432.3,370.7 435.4,369.5 437.4,370.3 C439.3,371.1 441.7,371.1 442.1,377.3 C442.5,383.6 440.1,399.6 439.7,407.8 C439.3,416.0 440.9,420.3 439.7,426.6 C438.5,432.8 438.5,439.1 432.7,445.3 C426.8,451.6 410.4,460.9 404.6,464.1 C398.7,467.2 399.9,461.4 397.5,464.1 C395.2,466.7 391.7,477.3 390.5,480.0 M411.6,322.3 C413.2,321.3 417.0,322.9 418.6,324.6 C420.3,326.4 422.0,330.7 421.4,332.8 C420.9,334.9 417.2,337.4 415.1,337.0 C413.0,336.6 409.4,332.9 408.8,330.5 C408.2,328.0 410.0,323.2 411.6,322.3 M303.8,441.8 C306.4,442.2 312.8,446.3 315.5,450.0 C318.2,453.7 319.9,461.0 319.7,464.1 C319.5,467.1 317.0,469.1 314.3,468.3 C311.7,467.5 306.2,462.8 303.8,459.4 C301.3,455.9 299.6,450.6 299.6,447.7 C299.6,444.7 301.1,441.4 303.8,441.8 M452.6,300.0 C453.6,300.6 456.1,303.5 458.5,303.5 C460.8,303.5 465.3,300.6 466.7,300.0 M518.0,322.3 C515.9,322.5 508.0,322.1 505.3,323.4 C502.6,324.8 501.0,326.2 501.8,330.5 C502.6,334.8 510.2,344.5 510.0,349.2 C509.8,353.9 503.8,356.6 500.7,358.6 C497.5,360.5 493.0,358.2 491.3,360.9 C489.5,363.7 487.4,370.9 490.1,375.0 C492.8,379.1 503.0,385.4 507.7,385.5 C512.3,385.7 516.3,377.7 518.0,376.2 M518.0,323.4 C519.6,324.6 524.8,326.6 527.4,330.5 C529.9,334.4 533.2,341.0 533.2,346.9 C533.2,352.7 529.9,360.5 527.4,365.6 C524.8,370.7 519.6,375.4 518.0,377.3 M632.8,312.9 C634.2,312.9 638.3,314.8 639.9,316.4 C641.4,318.0 642.8,321.3 642.2,322.3 C641.6,323.2 638.1,323.2 636.4,322.3 C634.6,321.3 632.3,318.0 631.7,316.4 C631.1,314.8 631.5,312.9 632.8,312.9 M710.2,300.0 C712.1,301.6 718.6,308.0 721.9,309.4 C725.2,310.7 729.1,309.8 730.1,308.2 C731.1,306.6 728.2,301.4 727.8,300.0 M546.1,480.0 C546.5,475.0 548.5,457.3 548.5,450.0 C548.5,442.7 547.1,442.6 546.1,435.9 C545.1,429.3 542.6,419.5 542.6,410.2 C542.6,400.8 542.4,387.1 546.1,379.7 C549.8,372.3 559.0,368.7 564.9,365.6 C570.7,362.6 575.8,361.6 581.3,361.4 C586.8,361.2 592.6,362.8 597.7,364.5 C602.8,366.1 607.8,368.2 611.8,371.5 C615.7,374.8 619.0,377.9 621.1,384.4 C623.3,390.8 623.7,402.9 624.6,410.2 C625.6,417.4 625.6,423.6 627.0,427.7 C628.4,431.8 631.9,433.6 632.8,434.8 M583.6,370.3 C583.8,372.3 586.0,380.0 584.8,382.0 C583.6,384.1 578.7,381.7 576.6,382.5 C574.4,383.3 572.7,386.0 571.9,386.7 M564.9,480.0 C564.9,476.6 563.3,466.7 564.9,459.4 C566.4,452.0 574.2,442.2 574.2,435.9 C574.2,429.7 567.6,427.3 564.9,421.9 C562.1,416.4 558.6,409.0 557.8,403.1 C557.1,397.3 557.8,390.0 560.2,386.7 C562.5,383.4 570.0,383.8 571.9,383.2 M583.6,480.0 C584.8,478.9 588.3,476.9 590.7,473.4 C593.0,470.0 596.9,464.1 597.7,459.4 C598.5,454.7 597.3,451.2 595.3,445.3 C593.4,439.5 587.1,428.9 586.0,424.2 C584.8,419.5 588.3,421.1 588.3,417.2 C588.3,413.3 586.6,406.1 586.0,400.8 C585.4,395.5 584.0,389.5 584.8,385.5 C585.6,381.6 588.3,379.3 590.7,377.3 C593.0,375.4 596.3,373.4 598.9,373.8 C601.4,374.2 605.3,377.5 605.9,379.7 C606.5,381.8 604.5,384.2 602.4,386.7 C600.2,389.3 595.7,392.6 593.0,394.9 C590.3,397.3 587.1,399.8 586.0,400.8 M568.4,390.2 C569.8,389.0 574.5,388.0 576.6,388.6 C578.7,389.2 581.2,391.9 580.8,393.8 C580.4,395.6 576.3,399.2 574.2,399.6 C572.2,400.0 569.4,397.7 568.4,396.1 C567.4,394.5 567.0,391.5 568.4,390.2 M570.7,403.1 C571.7,403.5 575.4,407.6 576.6,410.2 C577.8,412.7 578.4,417.2 577.8,418.4 C577.2,419.5 574.2,418.9 573.1,417.2 C571.9,415.4 571.1,410.2 570.7,407.8 C570.3,405.5 569.8,402.7 570.7,403.1 M576.6,447.7 C578.7,447.9 584.6,450.0 586.0,452.3 C587.3,454.7 586.6,459.4 584.8,461.7 C583.0,464.1 577.8,466.8 575.4,466.4 C573.1,466.0 571.1,461.9 570.7,459.4 C570.3,456.8 572.1,453.1 573.1,451.2 C574.1,449.2 574.4,447.5 576.6,447.7 M632.8,431.2 C634.4,427.7 638.7,418.0 642.2,410.2 C645.7,402.3 648.9,390.6 653.9,384.4 C659.0,378.1 664.1,376.2 672.7,372.7 C681.3,369.1 696.9,364.6 705.5,363.3 C714.1,361.9 718.0,362.5 724.2,364.5 C730.5,366.4 738.7,369.3 743.0,375.0 C747.3,380.7 748.9,389.1 750.0,398.4 C751.2,407.8 750.8,421.1 750.0,431.2 C749.2,441.4 745.3,455.5 745.3,459.4 C745.3,463.3 747.9,457.8 750.0,454.7 C752.1,451.6 756.7,443.0 758.0,440.6 M691.4,391.4 C695.7,390.6 702.0,392.6 705.5,396.1 C709.0,399.6 711.9,406.6 712.5,412.5 C713.1,418.4 711.4,425.8 709.0,431.2 C706.7,436.7 702.6,442.8 698.5,445.3 C694.4,447.9 688.7,448.4 684.4,446.5 C680.1,444.5 675.0,438.5 672.7,433.6 C670.3,428.7 669.2,422.7 670.3,417.2 C671.5,411.7 676.2,405.1 679.7,400.8 C683.2,396.5 687.1,392.2 691.4,391.4 M692.6,411.3 C695.0,410.9 696.0,412.3 696.6,414.8 C697.2,417.4 697.2,423.9 696.1,426.6 C695.1,429.2 692.6,430.8 690.3,430.8 C687.9,430.8 683.4,428.8 682.1,426.6 C680.7,424.3 680.3,419.7 682.1,417.2 C683.8,414.6 690.2,411.7 692.6,411.3 M668.0,480.0 C669.2,478.5 672.7,471.4 675.0,471.1 C677.4,470.8 680.9,477.0 682.1,478.1 M781.4,418.4 C784.2,415.0 793.2,405.7 797.8,398.4 C802.5,391.2 806.0,382.8 809.6,375.0 C813.1,367.2 815.8,356.1 818.9,351.6 C822.1,347.1 825.2,349.4 828.3,348.0 C831.4,346.7 837.7,346.7 837.7,343.4 C837.7,340.0 829.1,332.2 828.3,328.1 C827.5,324.0 830.3,322.7 833.0,318.8 C835.7,314.8 842.6,307.8 844.7,304.7 C846.9,301.6 845.7,300.8 845.9,300.0 M840.0,322.3 C842.4,320.1 848.6,313.1 854.1,309.4 C859.6,305.7 869.7,301.6 872.8,300.0 M840.0,322.3 C841.2,323.8 843.2,329.9 847.1,331.6 C851.0,333.4 858.8,331.6 863.5,332.8 C868.2,334.0 874.0,334.4 875.2,338.7 C876.4,343.0 868.9,353.3 870.5,358.6 C872.1,363.9 879.9,366.6 884.6,370.3 C889.2,374.0 895.3,377.3 898.6,380.9 C901.9,384.4 904.7,387.7 904.5,391.4 C904.3,395.1 900.2,399.4 897.5,403.1 C894.7,406.8 891.8,412.7 888.1,413.7 C884.4,414.6 878.9,410.4 875.2,409.0 C871.5,407.6 869.3,405.7 865.8,405.5 C862.3,405.3 856.6,407.0 854.1,407.8 C851.6,408.6 851.2,409.8 850.6,410.2 M847.1,323.4 C848.2,321.3 854.1,318.0 858.8,315.2 C863.5,312.5 869.7,309.4 875.2,307.0 C880.7,304.7 887.7,302.0 891.6,301.2 C895.5,300.4 895.9,301.0 898.6,302.3 C901.4,303.7 908.0,306.8 908.0,309.4 C908.0,311.9 900.6,313.3 898.6,317.6 C896.7,321.9 895.9,328.3 896.3,335.2 C896.7,342.0 901.0,353.5 901.0,358.6 C901.0,363.7 899.0,365.2 896.3,365.6 C893.5,366.0 887.7,363.3 884.6,360.9 C881.4,358.6 878.3,355.1 877.5,351.6 C876.8,348.0 881.4,343.8 879.9,339.8 C878.3,335.9 872.8,330.1 868.2,328.1 C863.5,326.2 855.3,328.9 851.8,328.1 C848.2,327.3 845.9,325.6 847.1,323.4 M854.1,321.1 C855.1,320.1 860.0,316.6 862.3,316.4 C864.6,316.2 867.6,319.1 868.2,319.9 C868.7,320.7 867.8,320.7 865.8,321.1 C863.9,321.5 858.4,322.3 856.4,322.3 C854.5,322.3 853.1,322.1 854.1,321.1 M877.5,309.4 C879.9,307.6 889.2,304.5 891.6,305.9 C893.9,307.2 892.6,314.8 891.6,317.6 C890.6,320.3 888.1,322.5 885.7,322.3 C883.4,322.1 878.9,318.6 877.5,316.4 C876.2,314.3 875.2,311.1 877.5,309.4 M889.2,335.2 C891.6,335.5 895.3,345.7 896.3,349.2 C897.3,352.7 896.9,355.3 895.1,356.2 C893.4,357.2 887.9,356.6 885.7,355.1 C883.6,353.5 881.6,350.2 882.2,346.9 C882.8,343.6 886.9,334.8 889.2,335.2 M919.7,300.0 C920.5,301.6 924.4,305.9 924.4,309.4 C924.4,312.9 919.3,319.3 919.7,321.1 C920.1,322.9 924.6,321.9 926.8,319.9 C928.9,318.0 930.7,311.5 932.6,309.4 C934.6,307.2 936.9,304.7 938.5,307.0 C940.0,309.4 941.2,318.4 942.0,323.4 C942.8,328.5 943.7,333.6 943.2,337.5 C942.6,341.4 941.2,344.1 938.5,346.9 C935.7,349.6 930.3,350.4 926.8,353.9 C923.2,357.4 918.5,363.3 917.4,368.0 C916.2,372.7 917.0,377.7 919.7,382.0 C922.5,386.3 929.9,391.0 933.8,393.8 C937.7,396.5 939.6,393.8 943.2,398.4 C946.7,403.1 951.4,412.9 954.9,421.9 C958.4,430.9 960.7,442.7 964.2,452.3 C967.8,462.0 974.0,475.4 976.0,480.0 M912.7,342.2 C912.7,339.8 917.7,336.3 919.7,336.3 C921.8,336.3 924.9,339.8 924.9,342.2 C924.9,344.5 921.8,350.4 919.7,350.4 C917.7,350.4 912.7,344.5 912.7,342.2 M967.8,300.0 L967.8,311.7 M966.6,344.5 C967.0,346.9 966.8,354.3 968.9,358.6 C971.1,362.9 977.9,366.0 979.5,370.3 C981.0,374.6 977.1,379.3 978.3,384.4 C979.5,389.5 985.1,398.0 986.5,400.8 M893.9,466.4 C895.1,460.5 897.1,438.3 901.0,431.2 C904.9,424.2 912.3,424.6 917.4,424.2 C922.5,423.8 928.3,425.8 931.4,428.9 C934.6,432.0 936.5,437.1 936.1,443.0 C935.7,448.8 931.4,457.9 929.1,464.1 C926.8,470.2 923.2,477.3 922.1,480.0 M910.3,461.7 C910.5,457.6 911.9,445.3 913.9,440.6 C915.8,435.9 919.9,434.0 922.1,433.6 C924.2,433.2 926.6,434.4 926.8,438.3 C926.9,442.2 925.6,452.5 923.2,457.0 C920.9,461.5 914.8,464.5 912.7,465.2 C910.5,466.0 910.1,465.8 910.3,461.7 M781.4,418.1 C783.4,416.0 789.6,409.9 793.2,405.2 C796.7,400.5 801.0,392.5 802.5,390.0 M762.7,438.0 L758.0,445.1 M765.0,476.7 C767.2,475.5 773.2,472.8 777.9,469.7 C782.6,466.6 789.6,461.5 793.2,458.0 C796.7,454.5 797.8,451.7 799.0,448.6 C800.2,445.5 798.8,442.5 800.2,439.2 C801.6,435.9 804.1,432.8 807.2,428.7 C810.3,424.6 815.4,418.0 818.9,414.6 C822.5,411.2 824.8,409.3 828.3,408.2 C831.8,407.0 836.5,407.0 840.0,407.6 C843.5,408.2 845.9,412.1 849.4,411.7 C852.9,411.3 857.6,406.2 861.1,405.2 C864.6,404.3 867.7,405.2 870.5,405.8 C873.3,406.4 876.8,408.3 878.0,408.8 M780.3,476.7 C782.0,475.2 787.3,469.3 790.8,467.3 C794.3,465.4 798.0,467.3 801.4,465.0 C804.7,462.7 809.2,457.2 810.7,453.3 C812.3,449.4 809.4,445.1 810.7,441.6 C812.1,438.0 816.0,434.7 818.9,432.2 C821.9,429.6 826.6,428.1 828.3,426.3 C830.1,424.6 828.9,422.8 829.5,421.6 C830.1,420.5 831.1,419.3 831.8,419.3 C832.5,419.3 833.6,420.5 833.6,421.6 C833.6,422.8 832.7,424.8 831.8,426.3 C830.9,427.9 829.2,428.5 828.3,431.0 C827.4,433.6 825.8,438.8 826.6,441.6 C827.3,444.3 831.0,446.2 833.0,447.4 C835.0,448.6 837.2,447.5 838.3,448.6 C839.3,449.7 839.7,452.3 839.4,453.9 C839.2,455.4 837.6,454.9 836.5,458.0 C835.4,461.0 833.6,468.4 833.0,472.0 C832.4,475.7 833.0,478.7 833.0,480.0 M790.8,474.1 C791.6,473.8 793.2,472.2 795.5,472.0 C797.8,471.9 802.7,471.9 804.9,473.2 C807.0,474.5 807.8,478.9 808.4,480.0 M793.2,480.0 C793.7,479.6 795.5,477.3 796.7,477.3 C797.8,477.3 799.6,479.6 800.2,480.0 M125.9,479.5 C127.5,478.7 131.8,481.2 134.1,483.2 C136.4,485.2 139.2,489.0 140.0,491.4 C140.7,493.7 140.0,495.7 138.8,497.2 C137.6,498.8 134.7,500.8 132.9,500.8 C131.2,500.8 129.6,499.4 128.2,497.2 C126.9,495.1 125.1,490.8 124.7,487.9 C124.3,484.9 124.3,480.3 125.9,479.5 M218.5,479.5 C220.0,481.5 227.8,488.0 227.8,491.4 C227.8,494.7 219.2,497.6 218.5,499.6 C217.7,501.5 220.8,503.7 223.2,503.1 C225.5,502.5 230.0,498.6 232.5,496.1 C235.1,493.5 237.4,490.6 238.4,487.9 C239.4,485.1 238.4,480.9 238.4,479.5 M128.2,510.1 C129.4,509.0 133.5,507.6 136.4,507.8 C139.4,508.0 144.1,509.3 145.8,511.3 C147.6,513.2 148.0,517.4 147.0,519.5 C146.0,521.6 142.9,525.0 140.0,524.2 C137.0,523.4 131.4,517.2 129.4,514.8 C127.5,512.5 127.1,511.3 128.2,510.1 M169.2,479.5 L177.5,492.5 M191.5,517.2 C192.1,518.3 194.4,521.5 195.0,524.2 C195.6,526.9 193.5,528.9 195.0,533.6 C196.6,538.2 201.3,548.2 204.4,552.3 C207.5,556.4 209.5,553.9 213.8,558.2 C218.1,562.5 226.7,572.4 230.2,578.1 C233.7,583.8 229.8,584.0 234.9,592.2 C240.0,600.4 254.8,615.4 260.7,627.3 C266.5,639.2 268.5,657.6 270.0,663.6 M257.1,504.3 C258.3,502.3 263.4,501.1 266.5,501.9 C269.6,502.7 274.5,505.8 275.9,509.0 C277.3,512.1 275.5,518.5 274.7,520.7 C273.9,522.8 273.7,523.0 271.2,521.8 C268.7,520.7 261.8,516.6 259.5,513.6 C257.1,510.7 256.0,506.2 257.1,504.3 M278.0,526.5 L277.1,539.4" stroke="#9c9c9c" stroke-width="0.85"/><path d="M83.7,120.0 L81.4,183.3 L73.2,300.0 M81.4,183.8 L127.1,186.3 L211.4,189.8 L278.0,192.7 M225.5,120.0 L219.6,134.1 L211.4,176.2 L211.0,190.3 L212.6,209.1 L211.4,238.4 L219.6,240.7 L239.6,255.9 L247.8,275.9 L241.9,300.0 M247.8,275.9 L258.3,292.3 L278.0,297.0 M606.6,479.5 L606.6,493.7 L590.7,524.2 L588.3,540.6 L587.8,556.5 M696.1,479.5 L695.0,540.6 L635.2,541.8 L634.0,578.1 M730.1,479.5 L731.3,510.1 L732.5,533.6 L741.8,547.6 L748.9,566.4 L757.1,578.1 L758.0,608.6 L755.9,612.1 M849.4,479.5 L849.4,496.1 L862.3,497.9 L865.8,510.1 L870.5,521.8 L876.4,524.2 L877.5,535.9 L885.7,540.6 L892.8,544.1 L896.3,557.0 L905.7,570.6 M849.4,496.1 L833.0,504.3 L830.7,507.8 L826.0,535.9 L807.2,551.1 L800.2,559.3 L793.2,578.1 L781.4,596.8 L767.4,606.2 L762.7,612.1 M758.0,585.1 L766.2,599.2 L767.4,606.2 L761.5,612.1 M758.0,592.2 L765.0,601.5 L762.7,608.6 L758.0,612.1 M849.4,496.1 L863.5,490.2 L882.2,479.5 M906.8,479.5 L905.7,504.3 L901.0,615.6 M903.3,479.5 L919.7,491.4 L947.8,492.5 L964.2,486.7 L986.5,483.2 M938.5,479.5 L938.5,504.3 L942.0,512.5 L949.0,533.6 L965.4,535.9 L964.2,575.8 L970.1,587.5 L976.0,600.4 L986.5,600.4 M965.4,540.1 L986.5,541.8 M278.0,192.7 L406.9,198.0 L518.0,202.5 M410.4,120.0 L406.9,198.0 M278.0,295.8 L301.4,300.0 M518.0,202.5 L588.3,203.9 L590.7,207.2 L677.4,209.5 L707.8,209.5 L709.0,205.5 L758.0,206.7 M588.3,120.0 L598.9,128.2 L607.1,130.5 L644.6,161.0 L677.4,210.2 L717.2,246.6 L738.3,272.3 L752.4,293.4 L758.0,294.6 M607.1,120.0 L607.1,130.5 M713.7,120.0 L731.3,143.4 L739.5,154.0 L750.0,162.2 L758.0,171.6 M758.0,206.5 L878.0,208.5 M758.0,171.0 L759.8,175.1 L768.5,184.5 L774.4,192.7 L775.6,206.7 L775.6,210.0 M774.4,192.1 L781.4,184.5 L801.4,173.9 L828.3,170.4 L835.3,164.5 L854.1,154.0 L859.4,147.0 L858.8,129.4 L855.3,120.0 M913.9,120.0 L912.7,209.1 M867.0,207.9 L912.7,209.1 M775.6,210.0 L776.8,218.2 L773.2,228.8 L771.5,241.6 L765.0,247.5 L762.7,256.9 L759.8,267.4 L759.2,294.4 M910.4,210.0 L909.2,240.5 L909.2,300.0 M909.2,240.5 L987.0,240.5 M73.2,300.0 L70.3,346.9 M241.4,300.0 L237.2,330.5 L225.5,363.3 L226.7,389.1 L220.3,409.0 M299.1,300.0 L364.7,310.5 L378.8,310.5 L388.2,312.9 L404.6,314.5 L418.6,315.2 L429.2,318.8 L442.1,342.2 L472.5,389.1 L491.3,403.1 L500.7,405.9 L518.0,402.7 M518.0,402.7 L522.7,401.2 L536.8,386.7 L553.2,376.2 L595.3,367.3 L622.3,366.3 L637.5,359.8 L650.4,355.5 L661.0,355.5 L696.1,337.5 L724.2,325.8 L737.1,322.3 L754.7,322.3 M661.0,355.5 L637.5,394.9 L632.8,434.8 L621.1,441.8 L607.1,466.4 L605.9,480.0 M757.1,300.0 L753.5,346.9 L754.7,405.5 L750.0,435.9 L740.7,454.7 L731.3,480.0 M696.1,480.0 L697.3,476.2 L758.0,477.0 M758.0,305.9 L759.2,316.4 L772.1,325.8 L781.4,331.6 L785.0,338.7 L814.2,360.9 L841.2,383.2 L861.1,386.7 L872.8,390.2 L908.0,398.4 L942.0,398.9 M763.9,308.2 L776.8,318.3 M841.2,383.2 L845.9,398.4 L849.4,410.2 M909.2,300.0 L908.0,398.4 L906.8,475.3 M942.0,398.9 L943.2,435.9 L938.5,480.0 M942.0,398.9 L952.5,394.9 L959.6,398.4 L968.9,398.4 L978.3,393.8 L986.5,391.9 M958.4,398.4 L958.4,407.8 L968.9,419.5 L978.3,420.0 L980.7,433.6 L986.5,443.0 M878.0,474.4 L906.8,475.3 M843.5,390.0 L850.6,411.7 L844.7,427.5 L841.2,431.0 L837.7,436.9 L835.9,442.1 L833.0,443.9 L833.6,448.6 L836.5,455.6 L842.4,465.0 L849.4,480.0 M758.0,477.3 L787.3,477.9 L790.8,474.1 L878.0,475.5" stroke="#404040" stroke-width="1.0"/></g>
<g clip-path="url(#oc0)"><path d="M795.0,456.5 C794.2,457.1 793.0,458.2 790.3,460.0 C787.6,461.8 782.3,464.7 778.6,467.0 C774.9,469.4 771.0,470.9 768.0,474.1 C765.1,477.2 762.4,481.9 761.0,485.8 C759.6,489.7 759.3,492.4 759.8,497.5 C760.4,502.6 763.3,511.2 764.5,516.2 C765.8,521.3 767.3,525.1 767.5,528.0 C767.7,530.8 767.4,532.3 765.7,533.2 C764.0,534.2 759.6,532.9 757.5,533.8 C755.4,534.7 753.8,536.8 752.8,538.5 C751.8,540.3 751.4,542.5 751.6,544.4 C751.8,546.3 753.4,548.4 754.0,550.0 C754.6,551.6 755.0,553.1 755.2,553.8 M805.5,456.5 C805.4,457.1 805.0,458.6 804.4,460.0 C803.8,461.4 804.4,463.4 802.0,464.7 C799.7,466.0 793.4,466.1 790.3,467.6 C787.2,469.2 785.8,472.2 783.3,474.1 C780.7,475.9 777.3,477.2 775.1,478.8 C772.8,480.3 770.6,480.7 769.8,483.4 C769.0,486.2 769.7,491.6 770.4,495.2 C771.1,498.7 771.8,501.8 773.9,504.5 C776.1,507.3 780.7,508.4 783.3,511.6 C785.8,514.7 786.8,520.4 789.1,523.3 C791.5,526.2 795.0,528.8 797.3,529.1 C799.7,529.5 802.0,527.8 803.2,525.6 C804.4,523.5 803.4,519.0 804.4,516.2 C805.4,513.5 806.7,512.0 809.1,509.2 C811.4,506.5 816.1,501.6 818.4,499.8 C820.8,498.1 821.2,499.6 823.1,498.7 C825.1,497.7 827.3,495.5 830.2,494.0 C833.0,492.4 837.7,490.4 840.0,489.3 C842.3,488.2 843.5,487.8 844.2,487.5 M806.7,475.2 C807.7,477.0 808.3,479.9 807.9,483.4 C807.5,487.0 805.7,492.8 804.4,496.3 C803.0,499.8 801.3,502.1 799.7,504.5 C798.0,507.0 796.4,510.8 794.4,511.0 C792.5,511.2 790.4,507.6 788.0,505.7 C785.5,503.8 781.7,501.8 779.8,499.8 C777.8,497.9 777.0,496.5 776.2,494.0 C775.5,491.4 774.3,486.6 775.1,484.6 C775.9,482.7 779.2,482.9 780.9,482.3 C782.7,481.7 784.1,482.5 785.6,481.1 C787.2,479.7 787.6,475.4 790.3,474.1 C793.0,472.7 799.3,472.7 802.0,472.9 C804.8,473.1 805.7,473.5 806.7,475.2 M796.2,477.6 C797.9,477.4 800.3,478.9 800.9,481.1 C801.4,483.2 800.7,488.1 799.7,490.5 C798.7,492.8 797.4,495.2 795.0,495.2 C792.6,495.2 785.8,492.6 785.0,490.5 C784.3,488.3 788.5,484.4 790.3,482.3 C792.2,480.1 794.4,477.8 796.2,477.6 M718.8,522.1 C719.0,522.5 719.2,522.7 720.0,524.5 C720.8,526.2 722.7,529.7 723.5,532.7 C724.3,535.6 724.9,539.1 724.7,542.0 C724.5,544.9 722.9,548.0 722.3,550.0 C721.8,552.0 721.4,553.1 721.2,553.8 M837.2,456.5 C837.0,457.1 836.8,457.3 836.0,460.0 C835.2,462.7 832.9,470.0 832.5,472.9 C832.1,475.8 832.4,475.8 833.7,477.6 C834.9,479.3 838.4,482.1 840.0,483.4 C841.6,484.8 842.5,485.4 843.0,485.8 M766.9,552.6 C767.3,552.1 768.2,550.8 769.2,550.0 C770.2,549.2 771.6,547.9 772.7,547.9 C773.9,547.9 775.3,549.2 776.2,550.0 C777.2,550.8 778.2,552.1 778.6,552.6" stroke="#9c9c9c" stroke-width="0.85"/><path d="M716.5,476.4 L788.0,478.2 L790.3,474.6 L843.0,474.6 M741.7,455.3 L739.0,460.0 L731.7,477.0 L729.4,485.8 L732.9,520.9 L734.1,537.3 L742.3,549.1 L744.6,553.8 M843.0,499.8 L840.0,501.0 L832.5,503.9 L831.3,509.2 L825.5,536.2 L820.8,540.9 L810.0,550.0 L806.1,553.8" stroke="#404040" stroke-width="1.0"/></g><g clip-path="url(#oc1)"><path d="M548.8,443.8 C548.6,443.1 548.8,445.5 547.6,440.0 C546.4,434.5 542.1,419.5 541.7,410.9 C541.3,402.4 544.1,393.9 545.2,388.7 C546.4,383.4 546.4,382.4 548.8,379.3 C551.1,376.2 555.6,372.6 559.3,369.9 C563.0,367.3 567.3,364.9 571.0,363.5 C574.7,362.0 578.6,361.3 581.6,361.1 C584.5,360.9 586.2,361.7 588.6,362.3 C590.9,362.9 592.9,363.8 595.6,364.6 C598.4,365.5 601.9,365.7 605.0,367.6 C608.1,369.4 611.6,372.5 614.4,375.8 C617.1,379.1 619.6,383.0 621.4,387.5 C623.2,392.0 624.1,397.3 624.9,402.7 C625.7,408.2 625.5,415.8 626.1,420.3 C626.7,424.8 627.3,427.3 628.4,429.7 C629.6,432.0 632.3,433.6 633.1,434.4 M530.9,347.7 C531.2,348.0 532.3,349.0 532.6,350.0 C532.8,351.0 532.8,352.1 532.3,353.5 C531.9,355.0 530.7,357.4 530.0,358.8 C529.3,360.2 528.5,361.2 528.2,361.7 M573.9,443.8 C573.8,443.1 573.5,442.3 573.4,440.0 C573.3,437.7 574.7,433.0 573.4,429.7 C572.0,426.4 567.1,423.4 565.2,420.3 C563.2,417.2 562.8,414.5 561.6,410.9 C560.5,407.4 558.5,402.7 558.1,399.2 C557.7,395.7 558.3,392.2 559.3,389.8 C560.3,387.5 561.2,386.3 564.0,385.2 C566.7,384.0 573.8,383.2 575.7,382.8 M568.7,391.0 C570.2,389.8 574.2,387.8 576.3,387.5 C578.3,387.2 580.1,388.1 581.0,389.3 C581.9,390.4 582.3,392.9 581.6,394.5 C580.8,396.2 577.7,397.9 576.3,399.2 C574.9,400.6 573.7,401.2 573.4,402.7 C573.1,404.3 573.8,406.1 574.5,408.6 C575.2,411.1 577.9,416.5 577.5,418.0 C577.1,419.4 573.6,418.4 572.2,417.4 C570.8,416.4 569.6,414.0 569.3,412.1 C569.0,410.3 570.9,408.4 570.4,406.2 C569.9,404.1 566.9,401.2 566.3,399.2 C565.7,397.3 566.5,395.9 566.9,394.5 C567.3,393.2 567.1,392.2 568.7,391.0 M570.4,396.9 L576.9,391.6 M592.1,443.8 C591.9,443.1 591.9,443.5 590.9,440.0 C590.0,436.5 586.6,428.1 586.2,422.7 C585.9,417.2 589.1,410.7 588.6,407.4 C588.1,404.1 582.9,404.7 583.3,402.7 C583.7,400.8 589.0,397.0 590.9,395.7 C592.9,394.4 592.7,397.5 595.0,395.1 C597.4,392.8 603.5,385.0 605.0,381.6 C606.5,378.3 605.2,376.6 603.8,375.2 C602.5,373.8 598.9,373.2 596.8,373.4 C594.6,373.6 592.9,375.0 590.9,376.4 C589.0,377.7 586.2,380.6 585.1,381.6 C584.0,382.7 584.6,382.6 584.5,382.8 M653.0,384.0 C652.5,385.0 651.8,385.7 650.0,389.8 C648.2,393.9 644.9,402.5 642.5,408.6 C640.1,414.6 637.0,422.3 635.5,426.2 C633.9,430.1 633.5,431.1 633.1,432.0" stroke="#9c9c9c" stroke-width="0.85"/><path d="M526.5,396.9 L530.0,393.4 L537.0,385.7 L552.3,376.4 L583.3,370.5 L593.3,367.6 L622.6,366.4 L650.0,355.9 L654.2,354.1 M583.3,370.5 L584.5,381.1 L576.3,383.4 M653.0,368.8 L650.0,373.4 L639.0,391.0 L636.6,400.4 L633.1,434.4 L624.9,440.0 L620.2,442.6" stroke="#404040" stroke-width="1.0"/></g><g clip-path="url(#oc2)"><path d="M865.8,295.9 C866.0,295.7 866.4,295.3 867.0,294.7 C867.6,294.1 868.8,293.3 869.3,292.3 C869.9,291.4 870.3,289.4 870.5,288.8 M864.7,325.2 C865.0,325.1 864.7,324.0 867.0,324.6 C869.3,325.2 876.0,327.1 878.7,328.7 C881.5,330.2 882.8,332.2 883.4,333.9 C884.0,335.7 883.1,336.8 882.2,339.2 C881.4,341.7 878.7,345.9 878.1,348.6 C877.5,351.3 876.3,352.9 878.7,355.6 C881.2,358.4 889.8,363.2 892.8,365.0 C895.8,366.8 895.5,367.0 896.9,366.2 C898.2,365.4 900.2,362.5 901.0,360.3 C901.8,358.2 902.1,357.6 901.6,353.3 C901.1,349.0 898.6,339.6 898.1,334.5 C897.5,329.5 897.8,325.6 898.1,322.8 C898.3,320.0 898.5,319.1 899.8,317.5 C901.1,316.0 904.1,314.9 905.7,313.4 C907.2,312.0 909.2,310.5 909.2,308.8 C909.2,307.0 907.8,304.9 905.7,302.9 C903.5,300.8 899.0,298.0 896.3,296.4 C893.6,294.9 892.2,293.0 889.3,293.5 C886.3,294.0 882.4,297.0 878.7,299.4 C875.0,301.7 869.3,305.9 867.0,307.6 C864.7,309.2 865.0,309.0 864.7,309.3 M864.7,316.4 C864.7,315.9 865.0,316.1 867.0,314.6 C869.0,313.1 872.9,309.8 876.4,307.6 C879.9,305.3 885.0,302.3 888.1,301.1 C891.2,300.0 893.3,299.9 895.1,300.5 C897.0,301.2 898.8,303.1 899.2,305.2 C899.6,307.4 898.3,310.7 897.5,313.4 C896.6,316.2 894.8,319.1 894.0,321.6 C893.1,324.2 893.2,327.1 892.2,328.7 C891.2,330.2 889.6,331.1 888.1,331.0 C886.6,330.9 885.6,329.6 883.4,328.1 C881.3,326.5 877.9,323.4 875.2,321.6 C872.5,319.9 868.8,318.4 867.0,317.5 C865.2,316.7 864.7,316.9 864.7,316.4 M876.4,311.1 C877.7,309.6 882.0,306.6 884.6,305.8 C887.1,305.0 890.5,304.9 891.6,306.4 C892.7,307.9 891.8,312.0 891.0,314.6 C890.2,317.2 888.8,321.4 886.9,322.2 C885.1,323.0 881.6,320.6 879.9,319.3 C878.1,318.0 877.0,316.0 876.4,314.6 C875.8,313.2 875.0,312.6 876.4,311.1 M864.7,330.4 C865.0,330.5 865.4,330.5 867.0,331.0 C868.6,331.5 872.3,332.0 874.0,333.4 C875.8,334.7 877.5,337.1 877.5,339.2 C877.5,341.4 875.3,343.5 874.0,346.2 C872.8,349.0 870.5,353.3 869.9,355.6 C869.3,358.0 869.4,358.9 870.5,360.3 C871.6,361.7 874.0,362.3 876.4,363.8 C878.7,365.4 881.1,367.0 884.6,369.7 C888.1,372.4 894.7,377.7 897.5,380.0 C900.2,382.3 900.4,383.1 901.0,383.8 M892.2,335.1 C893.6,336.3 895.6,342.5 896.3,346.2 C897.0,350.0 897.3,355.4 896.3,357.4 C895.3,359.3 892.4,358.6 890.4,358.0 C888.5,357.4 885.8,355.8 884.6,353.9 C883.4,351.9 882.8,348.7 883.4,346.2 C884.0,343.8 886.6,341.1 888.1,339.2 C889.6,337.4 890.8,333.9 892.2,335.1 M891.3,346.0 L891.7,347.0 M909.2,287.7 C909.4,288.2 908.4,289.0 910.4,291.2 C912.3,293.3 918.6,297.8 920.9,300.5 C923.2,303.3 923.8,305.4 924.4,307.6 C925.0,309.7 925.2,311.7 924.4,313.4 C923.6,315.2 920.3,316.6 919.7,318.1 C919.1,319.7 919.7,322.6 920.9,322.8 C922.1,323.0 924.8,321.8 926.8,319.3 C928.7,316.8 930.7,309.7 932.6,307.6 C934.6,305.4 936.7,302.7 938.5,306.4 C940.2,310.1 942.4,324.0 943.2,329.8 C944.0,335.7 944.0,338.6 943.2,341.6 C942.4,344.5 940.6,345.9 938.5,347.4 C936.3,349.0 932.4,349.0 930.3,350.9 C928.1,352.9 927.5,356.4 925.6,359.1 C923.6,361.9 920.1,365.2 918.6,367.3 C917.0,369.5 916.2,369.9 916.2,372.0 C916.2,374.1 918.0,378.0 918.6,380.0 C919.1,382.0 919.5,383.1 919.7,383.8 M912.7,340.4 C913.7,338.5 917.8,336.1 919.7,336.3 C921.7,336.5 924.5,339.2 924.4,341.6 C924.3,343.9 920.9,349.4 919.1,350.4 C917.4,351.3 914.9,349.1 913.9,347.4 C912.8,345.8 911.7,342.2 912.7,340.4 M964.9,286.5 C964.9,287.1 964.8,285.7 965.4,290.0 C966.1,294.3 968.4,308.6 969.0,312.3 M966.0,341.6 C966.3,343.9 965.7,351.5 967.8,355.6 C969.8,359.7 976.3,362.1 978.3,366.2 C980.4,370.2 979.7,377.1 980.1,380.0 C980.4,382.9 980.4,383.1 980.4,383.8" stroke="#9c9c9c" stroke-width="0.85"/><path d="M909.8,286.5 L909.8,290.0 L908.6,380.0 L908.6,383.8" stroke="#404040" stroke-width="1.0"/></g><g clip-path="url(#oc3)"><path d="M812.0,278.2 C812.8,278.4 814.1,279.0 817.0,279.5 C819.9,280.0 826.5,280.4 829.3,281.2 C832.1,282.0 832.6,282.2 834.0,284.1 C835.4,286.0 836.3,290.4 837.5,292.3 C838.7,294.2 839.5,294.7 841.0,295.8 C842.5,296.9 845.4,297.1 846.3,298.7 C847.2,300.3 846.8,303.3 846.3,305.2 C845.8,307.1 845.1,307.8 843.4,309.9 C841.6,311.9 838.3,315.1 835.8,317.5 C833.3,319.9 829.9,322.3 828.6,324.5 C827.3,326.7 827.6,329.0 828.2,330.9 C828.8,332.8 830.8,334.5 832.3,336.1 C833.8,337.8 835.7,339.6 837.0,340.8 C838.3,342.0 840.1,342.3 839.9,343.2 C839.7,344.1 837.6,345.2 835.8,346.1 C834.0,347.0 831.8,347.8 829.3,348.4 C826.8,349.0 822.7,348.6 820.5,349.6 C818.3,350.6 817.2,352.6 815.9,354.3 C814.6,356.1 813.4,359.1 812.9,360.1 M843.8,274.0 C843.8,275.0 843.9,277.8 844.0,280.0 C844.1,282.2 843.4,285.2 844.6,287.0 C845.8,288.8 849.0,290.1 851.0,290.5 C853.0,290.9 855.1,289.9 856.9,289.1 C858.7,288.3 860.0,286.1 861.6,285.6 C863.2,285.2 864.8,285.9 866.2,286.4 C867.6,286.9 869.4,288.4 870.0,288.8 M870.0,294.6 C868.5,295.3 863.6,296.7 861.0,298.7 C858.4,300.7 858.1,302.0 854.5,306.4 C850.9,310.8 841.5,321.2 839.3,325.0 C837.0,328.8 840.0,327.9 841.0,329.1 C842.0,330.3 842.0,331.5 845.1,332.0 C848.2,332.5 856.7,332.2 859.8,332.0 C862.9,331.8 862.2,331.0 863.9,330.9 C865.6,330.8 869.0,331.3 870.0,331.4 M870.0,306.5 C868.4,307.0 862.9,308.2 860.4,309.3 C857.9,310.4 857.2,311.0 855.1,312.8 C853.0,314.6 848.9,318.4 847.5,320.4 C846.1,322.4 846.7,323.9 846.9,325.0 C847.1,326.1 847.4,326.7 848.7,327.3 C850.0,327.9 852.5,328.6 854.5,328.5 C856.5,328.4 859.4,327.3 861.0,326.8 C862.6,326.3 862.4,325.9 863.9,325.6 C865.4,325.3 869.0,325.1 870.0,325.0 M870.0,318.2 C869.2,318.0 866.7,317.4 865.1,316.9 C863.5,316.4 862.4,314.4 860.4,315.1 C858.4,315.8 853.4,319.8 853.4,321.0 C853.4,322.2 858.4,322.8 860.4,322.2 C862.4,321.6 863.5,318.9 865.1,317.5 C866.7,316.1 869.2,314.2 870.0,313.5" stroke="#9c9c9c" stroke-width="0.85"/><path d="" stroke="#404040" stroke-width="1.0"/></g><g clip-path="url(#oc4)"><path d="M857.5,495.5 C857.9,494.9 857.5,493.4 860.0,491.7 C862.5,490.0 868.0,487.3 872.7,485.4 C877.4,483.5 883.7,481.1 887.9,480.3 C892.2,479.4 896.4,480.3 898.1,480.3 M896.8,377.5 C897.0,377.9 896.8,378.3 898.1,380.0 C899.4,381.7 903.6,385.1 904.4,387.6 C905.3,390.2 904.2,392.7 903.2,395.2 C902.1,397.8 899.8,400.5 898.1,402.9 C896.4,405.2 894.9,407.4 893.0,409.2 C891.1,411.0 889.6,413.7 886.7,413.6 C883.7,413.5 878.8,409.9 875.2,408.6 C871.6,407.2 867.6,405.8 865.1,405.4 C862.5,405.0 861.3,405.8 860.0,406.0 C858.7,406.2 857.9,406.6 857.5,406.7 M917.1,377.5 C917.3,377.9 917.3,378.1 918.4,380.0 C919.5,381.9 921.1,386.7 923.5,388.9 C925.8,391.1 929.4,391.8 932.4,393.3 C935.3,394.8 938.5,395.1 941.2,397.8 C944.0,400.4 946.3,404.8 948.9,409.2 C951.4,413.6 954.2,418.7 956.5,424.4 C958.8,430.1 961.6,438.2 962.8,443.5 C964.1,448.8 962.6,451.9 964.1,456.2 C965.6,460.4 969.6,464.6 971.7,468.9 C973.8,473.1 975.1,476.4 976.8,481.6 C978.5,486.7 980.9,496.2 981.9,500.0 C982.8,503.8 982.4,503.7 982.5,504.4 M978.7,377.5 C978.8,377.9 979.0,377.9 979.3,380.0 C979.7,382.1 979.4,386.8 980.6,390.2 C981.8,393.5 985.0,398.0 986.3,400.3 C987.6,402.6 987.9,403.5 988.2,404.1 M907.6,427.0 C910.6,424.8 915.8,424.0 919.7,423.8 C923.6,423.6 928.3,424.3 931.1,425.7 C933.8,427.1 935.3,429.1 936.2,432.1 C937.0,435.0 936.8,439.0 936.2,443.5 C935.5,447.9 934.5,454.1 932.4,458.7 C930.2,463.4 925.4,467.6 923.5,471.4 C921.6,475.2 922.0,479.4 920.9,481.6 C919.9,483.7 919.2,484.7 917.1,484.1 C915.0,483.5 911.8,479.4 908.2,477.8 C904.6,476.1 898.0,475.8 895.5,473.9 C893.1,472.0 893.2,469.3 893.6,466.3 C894.1,463.4 896.7,461.0 898.1,456.2 C899.5,451.3 900.3,442.0 901.9,437.1 C903.5,432.3 904.6,429.2 907.6,427.0 M920.9,433.3 C923.1,432.9 926.4,433.3 927.3,435.9 C928.1,438.4 927.1,444.5 926.0,448.6 C925.0,452.6 923.1,456.9 920.9,460.0 C918.8,463.0 915.4,466.5 913.3,467.0 C911.2,467.4 908.6,464.7 908.2,462.5 C907.9,460.3 911.0,456.4 911.4,453.6 C911.8,450.9 910.3,448.6 910.8,446.0 C911.3,443.5 912.9,440.5 914.6,438.4 C916.3,436.3 918.8,433.7 920.9,433.3 M889.2,504.4 C889.2,503.7 889.2,503.6 889.2,500.0 C889.2,496.4 887.9,486.1 889.2,482.8 C890.5,479.6 894.1,479.9 896.8,480.3 C899.6,480.7 903.2,483.0 905.7,485.4 C908.2,487.7 911.2,491.8 912.1,494.3 C912.9,496.7 911.1,498.3 910.8,500.0 C910.5,501.7 910.3,503.7 910.1,504.4 M858.7,495.5 C858.9,495.7 859.4,496.1 860.0,496.8 C860.6,497.5 861.9,498.7 862.5,500.0 C863.2,501.2 863.6,503.7 863.8,504.4" stroke="#9c9c9c" stroke-width="0.85"/><path d="M857.5,385.1 L860.0,386.1 L872.7,390.2 L889.2,394.0 L901.9,396.5 L910.8,399.3 L941.2,399.3 L948.9,395.9 L955.2,394.6 L960.3,399.0 L967.9,399.0 L976.8,394.0 L986.3,392.1 L990.8,391.4 M946.3,397.1 L953.9,397.1 L961.6,399.3 M908.0,377.5 L908.0,380.0 L907.2,430.8 L906.7,500.0 L906.7,504.4 M941.2,399.3 L942.3,438.4 L939.3,453.6 L938.1,500.0 L938.1,504.4 M957.8,399.0 L958.4,409.8 L967.9,419.4 L979.3,420.0 L980.0,430.8 L983.1,438.4 L987.0,442.8 L990.8,447.3 M857.5,475.2 L860.0,475.0 L906.7,475.2 M898.1,480.3 L905.7,484.1 L922.2,492.4 L948.9,492.4 L961.6,486.6 L974.3,482.8 L986.3,482.2 L990.8,481.9" stroke="#404040" stroke-width="1.0"/></g><g clip-path="url(#oc5)"><path d="M197.7,250.0 C198.0,250.1 199.0,250.4 200.0,250.5 C201.0,250.7 202.1,252.1 203.5,251.1 C204.9,250.2 207.3,246.5 208.2,244.7 C209.1,242.8 208.7,241.2 208.8,240.0 C208.9,238.8 208.8,238.0 208.8,237.7 M263.3,250.0 C265.3,250.0 267.0,251.8 268.0,254.1 C268.9,256.3 269.0,260.9 269.1,263.4 C269.2,266.0 269.6,267.4 268.6,269.3 C267.5,271.2 264.6,274.6 262.7,274.6 C260.8,274.6 258.8,271.3 257.4,269.3 C256.1,267.2 254.8,264.8 254.5,262.3 C254.2,259.7 254.2,256.1 255.7,254.1 C257.1,252.0 261.2,250.0 263.3,250.0 M275.0,237.7 C274.9,238.0 275.4,235.7 274.4,240.0 C273.4,244.3 269.0,258.6 269.1,263.4 C269.2,268.3 273.7,267.3 275.0,269.3 C276.3,271.2 277.0,273.2 276.8,275.2 C276.6,277.1 275.3,280.2 273.8,281.0 C272.4,281.8 269.8,279.8 268.0,279.8 C266.1,279.8 264.1,279.8 262.7,281.0 C261.3,282.2 260.4,284.3 259.8,286.9 C259.2,289.4 259.9,294.2 259.2,296.2 C258.5,298.3 257.1,298.8 255.7,299.2 C254.2,299.6 251.6,298.1 250.4,298.6 C249.2,299.1 247.9,300.6 248.6,302.1 C249.4,303.6 253.4,305.4 255.1,307.4 C256.7,309.3 258.8,311.4 258.6,313.8 C258.4,316.3 256.2,319.3 253.9,322.0 C251.6,324.7 246.5,328.0 244.5,330.0 C242.6,332.0 242.6,333.1 242.2,333.8" stroke="#9c9c9c" stroke-width="0.85"/><path d="M211.7,237.1 L216.4,240.0 L222.3,243.5 L239.8,257.0 L246.9,270.5 L248.6,276.9 L251.6,284.5 L259.2,292.1 L266.8,292.5 L283.2,298.0 L320.0,302.7 L324.2,303.3 M248.6,276.9 L242.8,291.6 L241.0,303.3 L237.5,330.0 L236.9,333.8" stroke="#404040" stroke-width="1.0"/></g><g clip-path="url(#oc6)"><path d="M674.3,472.0 C675.7,471.9 677.7,472.2 679.0,473.0 C680.3,473.8 681.8,475.1 682.3,476.5 C682.8,477.9 682.6,480.2 682.1,481.7 C681.6,483.2 680.0,484.6 679.0,485.5 C678.0,486.4 677.3,487.1 676.2,487.2 C675.1,487.3 673.5,486.6 672.5,486.0 C671.5,485.4 671.1,484.8 670.4,483.7 C669.7,482.6 668.9,480.6 668.5,479.5 C668.1,478.4 667.6,477.8 667.9,476.8 C668.2,475.8 669.4,474.3 670.5,473.5 C671.6,472.7 672.9,472.1 674.3,472.0" stroke="#9c9c9c" stroke-width="0.85"/><path d="" stroke="#404040" stroke-width="1.0"/></g>
<path d="M392.8,479.5 L518.0,532.4 M518.0,531.7 L719.6,611.6 L759.4,612.8 M753.3,612.8 L986.5,616.3 M38.0,332.8 L278.0,434.1 M278.0,434.1 L389.3,480.0 M38.0,605.0 L52.1,612.8 L84.9,622.6 L101.3,629.7 L115.3,637.9 L129.4,647.9 L131.8,663.6" stroke="#1a1a1a" stroke-width="1.6"/>
<g fill="#808080" stroke="none" font-size="10.8" text-anchor="middle" dominant-baseline="central" font-family="Liberation Sans"><text x="93.8" y="222.0" transform="rotate(78 93.8 222.0)">1000</text><text x="299.6" y="531.9" transform="rotate(3 299.6 531.9)">2000</text><text x="571.4" y="639.0" transform="rotate(90 571.4 639.0)">3000</text><text x="686.8" y="601.5" transform="rotate(75 686.8 601.5)">4000</text><text x="535.6" y="610.9" transform="rotate(-40 535.6 610.9)">3000</text><text x="969.0" y="327.5" transform="rotate(-90 969.0 327.5)">4000</text><text x="671.5" y="139.9" transform="rotate(90 671.5 139.9)">2000</text><text x="736.0" y="140.6" transform="rotate(-90 736.0 140.6)">3000</text><text x="800.2" y="213.8" transform="rotate(-72 800.2 213.8)">4000</text><text x="889.2" y="206.7" transform="rotate(72 889.2 206.7)">3000</text><text x="771.5" y="428.1" transform="rotate(-45 771.5 428.1)">3000</text><text x="183.8" y="505.4" transform="rotate(58 183.8 505.4)">1000</text></g>
</g></svg><!--/SVG-->
<div class="t" id="bt" style="left:116.8px;top:699.5px;font-size:26.1px;letter-spacing:0.04px">U of A Dept of Hydrology and Atmospheric Sciences WRF-GFS 12Z</div>
<div id="cb">
<div style="background:#ffffff"></div><div style="background:#00e8ec"></div><div style="background:#6a9ff5"></div><div style="background:#3535fa"></div>
<div style="background:#00ff00"></div><div style="background:#00c800"></div><div style="background:#007d00"></div><div style="background:#ffff00"></div>
<div style="background:#e6c000"></div><div style="background:#ff8c00"></div><div style="background:#ff3300"></div><div style="background:#c01800"></div>
<div style="background:#7c0000"></div><div style="background:#ff00ff"></div><div style="background:#9a55cc"></div><div style="background:#d3d3d3"></div>
</div>
<div id="cbl"><div class="t cl" style="left:145.38px">0.01</div><div class="t cl" style="left:197.75px">0.10</div><div class="t cl" style="left:250.12px">0.25</div><div class="t cl" style="left:302.50px">0.40</div><div class="t cl" style="left:354.88px">0.7</div><div class="t cl" style="left:407.25px">1.0</div><div class="t cl" style="left:459.62px">1.25</div><div class="t cl" style="left:512.00px">1.75</div><div class="t cl" style="left:564.38px">2.5</div><div class="t cl" style="left:616.75px">3.0</div><div class="t cl" style="left:669.12px">4.0</div><div class="t cl" style="left:721.50px">5.0</div><div class="t cl" style="left:773.88px">6.0</div><div class="t cl" style="left:826.25px">8.0</div><div class="t cl" style="left:878.62px">10.0</div></div>
</body></html>
